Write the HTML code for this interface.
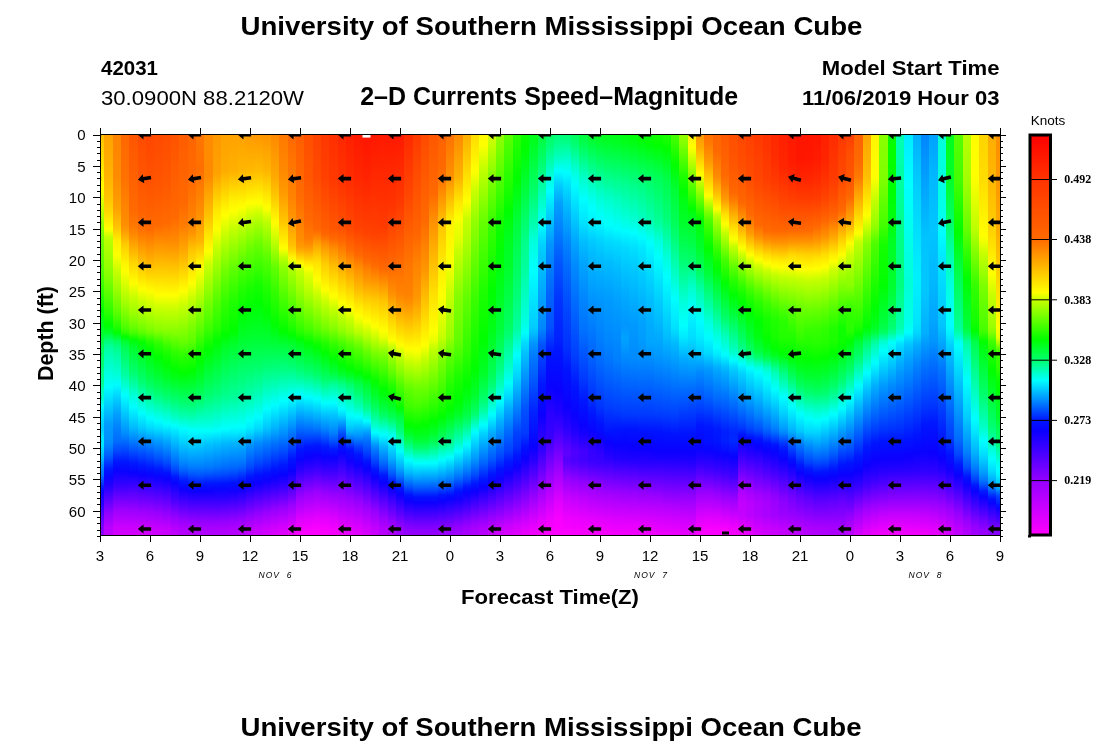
<!DOCTYPE html>
<html><head><meta charset="utf-8"><title>Ocean Cube</title>
<style>html,body{margin:0;padding:0;background:#fff}svg{display:block;will-change:transform}text{font-family:"Liberation Sans",sans-serif;fill:#000}.b{font-weight:bold}.s{font-family:"Liberation Serif",serif;font-weight:bold}</style></head>
<body>
<svg width="1100" height="750" viewBox="0 0 1100 750">
<rect width="1100" height="750" fill="#fff"/>
<defs><linearGradient id="g0" x1="0" y1="0" x2="0" y2="1"><stop offset="0" stop-color="#ffc000"/><stop offset="0.135" stop-color="#ffff00"/><stop offset="0.245" stop-color="#7bff00"/><stop offset="0.34" stop-color="#52ff00"/><stop offset="0.385" stop-color="#33ff00"/><stop offset="0.44" stop-color="#00ff02"/><stop offset="0.495" stop-color="#00ff2e"/><stop offset="0.54" stop-color="#00ff5f"/><stop offset="0.57" stop-color="#00ff6b"/><stop offset="0.59" stop-color="#00ff82"/><stop offset="0.615" stop-color="#00ff89"/><stop offset="0.625" stop-color="#00ff98"/><stop offset="0.64" stop-color="#00ffba"/><stop offset="0.66" stop-color="#00ffce"/><stop offset="0.67" stop-color="#00ffe4"/><stop offset="0.675" stop-color="#00fff6"/><stop offset="0.68" stop-color="#00f9ff"/><stop offset="0.69" stop-color="#00eaff"/><stop offset="0.73" stop-color="#00ceff"/><stop offset="0.745" stop-color="#00d5ff"/><stop offset="0.755" stop-color="#00e6ff"/><stop offset="0.765" stop-color="#00edff"/><stop offset="0.775" stop-color="#00e8ff"/><stop offset="0.81" stop-color="#00b4ff"/><stop offset="0.825" stop-color="#008fff"/><stop offset="0.85" stop-color="#0071ff"/><stop offset="0.885" stop-color="#0112ff"/><stop offset="0.895" stop-color="#0a01ff"/><stop offset="0.905" stop-color="#1900ff"/><stop offset="0.93" stop-color="#2e00ff"/><stop offset="0.94" stop-color="#4300ff"/><stop offset="0.96" stop-color="#5d00ff"/><stop offset="0.985" stop-color="#8700ff"/><stop offset="1" stop-color="#9000ff"/></linearGradient><linearGradient id="g1" x1="0" y1="0" x2="0" y2="1"><stop offset="0" stop-color="#ffa200"/><stop offset="0.11" stop-color="#ffb500"/><stop offset="0.16" stop-color="#ffc500"/><stop offset="0.19" stop-color="#ffd600"/><stop offset="0.235" stop-color="#fffe00"/><stop offset="0.255" stop-color="#c4ff00"/><stop offset="0.265" stop-color="#b7ff00"/><stop offset="0.325" stop-color="#98ff00"/><stop offset="0.355" stop-color="#82ff00"/><stop offset="0.43" stop-color="#39ff00"/><stop offset="0.475" stop-color="#01ff00"/><stop offset="0.48" stop-color="#00ff07"/><stop offset="0.495" stop-color="#00ff2a"/><stop offset="0.515" stop-color="#00ff76"/><stop offset="0.53" stop-color="#00ff9e"/><stop offset="0.55" stop-color="#00ffb6"/><stop offset="0.63" stop-color="#00feff"/><stop offset="0.725" stop-color="#009bff"/><stop offset="0.77" stop-color="#008cff"/><stop offset="0.8" stop-color="#0061ff"/><stop offset="0.835" stop-color="#0017ff"/><stop offset="0.855" stop-color="#0804ff"/><stop offset="0.875" stop-color="#2000ff"/><stop offset="0.95" stop-color="#9700ff"/><stop offset="0.985" stop-color="#bb00ff"/><stop offset="1" stop-color="#c100ff"/></linearGradient><linearGradient id="g2" x1="0" y1="0" x2="0" y2="1"><stop offset="0" stop-color="#ff8400"/><stop offset="0.105" stop-color="#ff8c00"/><stop offset="0.18" stop-color="#ffa000"/><stop offset="0.23" stop-color="#ffc300"/><stop offset="0.265" stop-color="#ffef00"/><stop offset="0.3" stop-color="#fdff00"/><stop offset="0.34" stop-color="#c7ff00"/><stop offset="0.385" stop-color="#9cff00"/><stop offset="0.44" stop-color="#5eff00"/><stop offset="0.475" stop-color="#28ff00"/><stop offset="0.49" stop-color="#09ff00"/><stop offset="0.495" stop-color="#00ff06"/><stop offset="0.515" stop-color="#00ff5e"/><stop offset="0.53" stop-color="#00ff87"/><stop offset="0.55" stop-color="#00ffa5"/><stop offset="0.595" stop-color="#00ffd2"/><stop offset="0.625" stop-color="#00fcff"/><stop offset="0.655" stop-color="#00d2ff"/><stop offset="0.7" stop-color="#009dff"/><stop offset="0.735" stop-color="#007fff"/><stop offset="0.765" stop-color="#006dff"/><stop offset="0.79" stop-color="#0048ff"/><stop offset="0.815" stop-color="#0018ff"/><stop offset="0.84" stop-color="#0902ff"/><stop offset="0.875" stop-color="#3600ff"/><stop offset="0.935" stop-color="#9a00ff"/><stop offset="0.98" stop-color="#ca00ff"/><stop offset="1" stop-color="#d600ff"/></linearGradient><linearGradient id="g3" x1="0" y1="0" x2="0" y2="1"><stop offset="0" stop-color="#ff6800"/><stop offset="0.105" stop-color="#ff7100"/><stop offset="0.225" stop-color="#ff8f00"/><stop offset="0.24" stop-color="#ff9c00"/><stop offset="0.275" stop-color="#ffcd00"/><stop offset="0.32" stop-color="#fff400"/><stop offset="0.34" stop-color="#feff00"/><stop offset="0.42" stop-color="#a1ff00"/><stop offset="0.475" stop-color="#55ff00"/><stop offset="0.485" stop-color="#44ff00"/><stop offset="0.495" stop-color="#29ff00"/><stop offset="0.505" stop-color="#00ff00"/><stop offset="0.515" stop-color="#00ff2c"/><stop offset="0.53" stop-color="#00ff52"/><stop offset="0.6" stop-color="#00ffa2"/><stop offset="0.65" stop-color="#00ffff"/><stop offset="0.745" stop-color="#008eff"/><stop offset="0.815" stop-color="#0018ff"/><stop offset="0.84" stop-color="#0803ff"/><stop offset="0.875" stop-color="#3600ff"/><stop offset="0.935" stop-color="#9a00ff"/><stop offset="0.98" stop-color="#cb00ff"/><stop offset="1" stop-color="#d600ff"/></linearGradient><linearGradient id="g4" x1="0" y1="0" x2="0" y2="1"><stop offset="0" stop-color="#ff5600"/><stop offset="0.185" stop-color="#ff6900"/><stop offset="0.225" stop-color="#ff7700"/><stop offset="0.245" stop-color="#ff8500"/><stop offset="0.32" stop-color="#ffd600"/><stop offset="0.37" stop-color="#fffd00"/><stop offset="0.405" stop-color="#c8ff00"/><stop offset="0.44" stop-color="#a1ff00"/><stop offset="0.48" stop-color="#67ff00"/><stop offset="0.495" stop-color="#44ff00"/><stop offset="0.51" stop-color="#09ff00"/><stop offset="0.515" stop-color="#00ff0b"/><stop offset="0.53" stop-color="#00ff2c"/><stop offset="0.595" stop-color="#00ff70"/><stop offset="0.655" stop-color="#00ffde"/><stop offset="0.68" stop-color="#00fdff"/><stop offset="0.735" stop-color="#00b5ff"/><stop offset="0.82" stop-color="#0019ff"/><stop offset="0.845" stop-color="#0902ff"/><stop offset="0.935" stop-color="#9700ff"/><stop offset="0.98" stop-color="#ca00ff"/><stop offset="1" stop-color="#d600ff"/></linearGradient><linearGradient id="g5" x1="0" y1="0" x2="0" y2="1"><stop offset="0" stop-color="#ff4b00"/><stop offset="0.115" stop-color="#ff5600"/><stop offset="0.225" stop-color="#ff6900"/><stop offset="0.245" stop-color="#ff7700"/><stop offset="0.385" stop-color="#fffe00"/><stop offset="0.415" stop-color="#ccff00"/><stop offset="0.45" stop-color="#a2ff00"/><stop offset="0.485" stop-color="#70ff00"/><stop offset="0.495" stop-color="#58ff00"/><stop offset="0.515" stop-color="#0dff00"/><stop offset="0.52" stop-color="#01ff00"/><stop offset="0.525" stop-color="#00ff0a"/><stop offset="0.615" stop-color="#00ff6e"/><stop offset="0.695" stop-color="#00fffd"/><stop offset="0.735" stop-color="#00c7ff"/><stop offset="0.77" stop-color="#007cff"/><stop offset="0.825" stop-color="#001aff"/><stop offset="0.85" stop-color="#0b00ff"/><stop offset="0.94" stop-color="#9a00ff"/><stop offset="0.985" stop-color="#ce00ff"/><stop offset="1" stop-color="#d500ff"/></linearGradient><linearGradient id="g6" x1="0" y1="0" x2="0" y2="1"><stop offset="0" stop-color="#ff4600"/><stop offset="0.115" stop-color="#ff5200"/><stop offset="0.235" stop-color="#ff6a00"/><stop offset="0.32" stop-color="#ffb500"/><stop offset="0.39" stop-color="#fffd00"/><stop offset="0.425" stop-color="#cbff00"/><stop offset="0.485" stop-color="#7fff00"/><stop offset="0.495" stop-color="#69ff00"/><stop offset="0.515" stop-color="#25ff00"/><stop offset="0.535" stop-color="#00ff00"/><stop offset="0.6" stop-color="#00ff42"/><stop offset="0.63" stop-color="#00ff6b"/><stop offset="0.705" stop-color="#00fffa"/><stop offset="0.71" stop-color="#00fcff"/><stop offset="0.735" stop-color="#00d5ff"/><stop offset="0.77" stop-color="#0086ff"/><stop offset="0.83" stop-color="#001aff"/><stop offset="0.85" stop-color="#0803ff"/><stop offset="0.94" stop-color="#9700ff"/><stop offset="0.985" stop-color="#cb00ff"/><stop offset="1" stop-color="#d200ff"/></linearGradient><linearGradient id="g7" x1="0" y1="0" x2="0" y2="1"><stop offset="0" stop-color="#ff4a00"/><stop offset="0.115" stop-color="#ff5400"/><stop offset="0.225" stop-color="#ff6900"/><stop offset="0.4" stop-color="#ffff00"/><stop offset="0.435" stop-color="#c6ff00"/><stop offset="0.485" stop-color="#8bff00"/><stop offset="0.495" stop-color="#78ff00"/><stop offset="0.515" stop-color="#3cff00"/><stop offset="0.525" stop-color="#26ff00"/><stop offset="0.555" stop-color="#00ff01"/><stop offset="0.6" stop-color="#00ff2e"/><stop offset="0.645" stop-color="#00ff6e"/><stop offset="0.715" stop-color="#00fffd"/><stop offset="0.735" stop-color="#00deff"/><stop offset="0.765" stop-color="#009bff"/><stop offset="0.81" stop-color="#004eff"/><stop offset="0.835" stop-color="#0019ff"/><stop offset="0.855" stop-color="#0902ff"/><stop offset="0.945" stop-color="#9900ff"/><stop offset="0.985" stop-color="#c800ff"/><stop offset="1" stop-color="#d000ff"/></linearGradient><linearGradient id="g8" x1="0" y1="0" x2="0" y2="1"><stop offset="0" stop-color="#ff4d00"/><stop offset="0.115" stop-color="#ff5700"/><stop offset="0.22" stop-color="#ff6a00"/><stop offset="0.265" stop-color="#ff8a00"/><stop offset="0.4" stop-color="#fffe00"/><stop offset="0.435" stop-color="#c8ff00"/><stop offset="0.485" stop-color="#8fff00"/><stop offset="0.495" stop-color="#7eff00"/><stop offset="0.53" stop-color="#31ff00"/><stop offset="0.55" stop-color="#15ff00"/><stop offset="0.57" stop-color="#02ff00"/><stop offset="0.605" stop-color="#00ff23"/><stop offset="0.655" stop-color="#00ff70"/><stop offset="0.72" stop-color="#00fff9"/><stop offset="0.725" stop-color="#00faff"/><stop offset="0.765" stop-color="#00a9ff"/><stop offset="0.82" stop-color="#004aff"/><stop offset="0.845" stop-color="#0111ff"/><stop offset="0.86" stop-color="#0a01ff"/><stop offset="0.95" stop-color="#9900ff"/><stop offset="0.985" stop-color="#c500ff"/><stop offset="1" stop-color="#cd00ff"/></linearGradient><linearGradient id="g9" x1="0" y1="0" x2="0" y2="1"><stop offset="0" stop-color="#ff5300"/><stop offset="0.205" stop-color="#ff6900"/><stop offset="0.27" stop-color="#ff8d00"/><stop offset="0.4" stop-color="#fffe00"/><stop offset="0.435" stop-color="#c8ff00"/><stop offset="0.495" stop-color="#82ff00"/><stop offset="0.545" stop-color="#2bff00"/><stop offset="0.585" stop-color="#02ff00"/><stop offset="0.605" stop-color="#00ff15"/><stop offset="0.665" stop-color="#00ff73"/><stop offset="0.7" stop-color="#00ffb9"/><stop offset="0.725" stop-color="#00fff8"/><stop offset="0.73" stop-color="#00faff"/><stop offset="0.745" stop-color="#00deff"/><stop offset="0.82" stop-color="#006aff"/><stop offset="0.84" stop-color="#0041ff"/><stop offset="0.855" stop-color="#0016ff"/><stop offset="0.87" stop-color="#0804ff"/><stop offset="0.91" stop-color="#4400ff"/><stop offset="0.955" stop-color="#9500ff"/><stop offset="0.985" stop-color="#b900ff"/><stop offset="1" stop-color="#c200ff"/></linearGradient><linearGradient id="g10" x1="0" y1="0" x2="0" y2="1"><stop offset="0" stop-color="#ff5c00"/><stop offset="0.17" stop-color="#ff6900"/><stop offset="0.225" stop-color="#ff7c00"/><stop offset="0.29" stop-color="#ffa900"/><stop offset="0.39" stop-color="#fffe00"/><stop offset="0.425" stop-color="#c9ff00"/><stop offset="0.515" stop-color="#68ff00"/><stop offset="0.55" stop-color="#2dff00"/><stop offset="0.595" stop-color="#00ff00"/><stop offset="0.67" stop-color="#00ff70"/><stop offset="0.7" stop-color="#00ffa9"/><stop offset="0.73" stop-color="#00fff5"/><stop offset="0.735" stop-color="#00fdff"/><stop offset="0.82" stop-color="#0085ff"/><stop offset="0.84" stop-color="#005eff"/><stop offset="0.865" stop-color="#0018ff"/><stop offset="0.885" stop-color="#0b00ff"/><stop offset="0.965" stop-color="#9900ff"/><stop offset="0.985" stop-color="#b000ff"/><stop offset="1" stop-color="#b800ff"/></linearGradient><linearGradient id="g11" x1="0" y1="0" x2="0" y2="1"><stop offset="0" stop-color="#ff6500"/><stop offset="0.11" stop-color="#ff6900"/><stop offset="0.225" stop-color="#ff8600"/><stop offset="0.245" stop-color="#ff9400"/><stop offset="0.29" stop-color="#ffc700"/><stop offset="0.37" stop-color="#fffe00"/><stop offset="0.41" stop-color="#c5ff00"/><stop offset="0.485" stop-color="#76ff00"/><stop offset="0.515" stop-color="#5cff00"/><stop offset="0.55" stop-color="#27ff00"/><stop offset="0.59" stop-color="#00ff00"/><stop offset="0.675" stop-color="#00ff75"/><stop offset="0.7" stop-color="#00ffa4"/><stop offset="0.735" stop-color="#00fff5"/><stop offset="0.74" stop-color="#00feff"/><stop offset="0.83" stop-color="#007dff"/><stop offset="0.85" stop-color="#0052ff"/><stop offset="0.87" stop-color="#001bff"/><stop offset="0.89" stop-color="#0b00ff"/><stop offset="0.965" stop-color="#9400ff"/><stop offset="0.985" stop-color="#ad00ff"/><stop offset="1" stop-color="#b500ff"/></linearGradient><linearGradient id="g12" x1="0" y1="0" x2="0" y2="1"><stop offset="0" stop-color="#ff7700"/><stop offset="0.09" stop-color="#ff6e00"/><stop offset="0.2" stop-color="#ff9000"/><stop offset="0.265" stop-color="#ffb400"/><stop offset="0.32" stop-color="#fff300"/><stop offset="0.335" stop-color="#fdff00"/><stop offset="0.44" stop-color="#88ff00"/><stop offset="0.495" stop-color="#51ff00"/><stop offset="0.54" stop-color="#15ff00"/><stop offset="0.565" stop-color="#00ff02"/><stop offset="0.605" stop-color="#00ff26"/><stop offset="0.665" stop-color="#00ff71"/><stop offset="0.74" stop-color="#00fffc"/><stop offset="0.77" stop-color="#00cfff"/><stop offset="0.83" stop-color="#007eff"/><stop offset="0.85" stop-color="#0054ff"/><stop offset="0.875" stop-color="#0112ff"/><stop offset="0.89" stop-color="#0a00ff"/><stop offset="0.965" stop-color="#9200ff"/><stop offset="0.985" stop-color="#ab00ff"/><stop offset="1" stop-color="#b400ff"/></linearGradient><linearGradient id="g13" x1="0" y1="0" x2="0" y2="1"><stop offset="0" stop-color="#ff8c00"/><stop offset="0.1" stop-color="#ff8900"/><stop offset="0.2" stop-color="#ffc100"/><stop offset="0.29" stop-color="#ffff00"/><stop offset="0.325" stop-color="#c9ff00"/><stop offset="0.485" stop-color="#3cff00"/><stop offset="0.535" stop-color="#00ff00"/><stop offset="0.65" stop-color="#00ff6f"/><stop offset="0.715" stop-color="#00ffce"/><stop offset="0.74" stop-color="#00fffb"/><stop offset="0.77" stop-color="#00c7ff"/><stop offset="0.83" stop-color="#007aff"/><stop offset="0.845" stop-color="#005cff"/><stop offset="0.87" stop-color="#0019ff"/><stop offset="0.89" stop-color="#0b00ff"/><stop offset="0.965" stop-color="#9200ff"/><stop offset="0.985" stop-color="#ab00ff"/><stop offset="1" stop-color="#b400ff"/></linearGradient><linearGradient id="g14" x1="0" y1="0" x2="0" y2="1"><stop offset="0" stop-color="#ff9900"/><stop offset="0.095" stop-color="#ffa100"/><stop offset="0.19" stop-color="#ffe800"/><stop offset="0.235" stop-color="#feff00"/><stop offset="0.28" stop-color="#c7ff00"/><stop offset="0.425" stop-color="#4cff00"/><stop offset="0.485" stop-color="#24ff00"/><stop offset="0.515" stop-color="#00ff01"/><stop offset="0.645" stop-color="#00ff77"/><stop offset="0.67" stop-color="#00ff97"/><stop offset="0.74" stop-color="#00fcff"/><stop offset="0.77" stop-color="#00c0ff"/><stop offset="0.83" stop-color="#0074ff"/><stop offset="0.85" stop-color="#004cff"/><stop offset="0.87" stop-color="#0017ff"/><stop offset="0.885" stop-color="#0805ff"/><stop offset="0.905" stop-color="#2500ff"/><stop offset="0.97" stop-color="#9a00ff"/><stop offset="0.99" stop-color="#b000ff"/><stop offset="1" stop-color="#b400ff"/></linearGradient><linearGradient id="g15" x1="0" y1="0" x2="0" y2="1"><stop offset="0" stop-color="#ffa200"/><stop offset="0.09" stop-color="#ffac00"/><stop offset="0.2" stop-color="#ffff00"/><stop offset="0.25" stop-color="#c7ff00"/><stop offset="0.34" stop-color="#70ff00"/><stop offset="0.42" stop-color="#31ff00"/><stop offset="0.485" stop-color="#0eff00"/><stop offset="0.5" stop-color="#00ff00"/><stop offset="0.53" stop-color="#00ff25"/><stop offset="0.655" stop-color="#00ff8f"/><stop offset="0.735" stop-color="#00ffff"/><stop offset="0.77" stop-color="#00b9ff"/><stop offset="0.83" stop-color="#006eff"/><stop offset="0.85" stop-color="#0047ff"/><stop offset="0.87" stop-color="#0015ff"/><stop offset="0.885" stop-color="#0804ff"/><stop offset="0.905" stop-color="#2600ff"/><stop offset="0.965" stop-color="#9300ff"/><stop offset="0.985" stop-color="#ac00ff"/><stop offset="1" stop-color="#b400ff"/></linearGradient><linearGradient id="g16" x1="0" y1="0" x2="0" y2="1"><stop offset="0" stop-color="#ffa200"/><stop offset="0.09" stop-color="#ffb100"/><stop offset="0.16" stop-color="#ffed00"/><stop offset="0.19" stop-color="#feff00"/><stop offset="0.23" stop-color="#c8ff00"/><stop offset="0.345" stop-color="#56ff00"/><stop offset="0.42" stop-color="#1eff00"/><stop offset="0.49" stop-color="#00ff00"/><stop offset="0.53" stop-color="#00ff32"/><stop offset="0.655" stop-color="#00ff98"/><stop offset="0.73" stop-color="#00fffc"/><stop offset="0.745" stop-color="#00e9ff"/><stop offset="0.77" stop-color="#00b5ff"/><stop offset="0.83" stop-color="#0069ff"/><stop offset="0.845" stop-color="#004cff"/><stop offset="0.87" stop-color="#0111ff"/><stop offset="0.89" stop-color="#1000ff"/><stop offset="0.965" stop-color="#9700ff"/><stop offset="0.985" stop-color="#af00ff"/><stop offset="1" stop-color="#b800ff"/></linearGradient><linearGradient id="g17" x1="0" y1="0" x2="0" y2="1"><stop offset="0" stop-color="#ffa200"/><stop offset="0.09" stop-color="#ffb600"/><stop offset="0.18" stop-color="#ffff00"/><stop offset="0.22" stop-color="#c6ff00"/><stop offset="0.32" stop-color="#58ff00"/><stop offset="0.385" stop-color="#22ff00"/><stop offset="0.445" stop-color="#00ff02"/><stop offset="0.505" stop-color="#00ff29"/><stop offset="0.645" stop-color="#00ff98"/><stop offset="0.73" stop-color="#00feff"/><stop offset="0.745" stop-color="#00e6ff"/><stop offset="0.77" stop-color="#00b0ff"/><stop offset="0.81" stop-color="#0081ff"/><stop offset="0.83" stop-color="#0064ff"/><stop offset="0.865" stop-color="#0113ff"/><stop offset="0.885" stop-color="#0d00ff"/><stop offset="0.96" stop-color="#9400ff"/><stop offset="0.985" stop-color="#b400ff"/><stop offset="1" stop-color="#bc00ff"/></linearGradient><linearGradient id="g18" x1="0" y1="0" x2="0" y2="1"><stop offset="0" stop-color="#ff9b00"/><stop offset="0.09" stop-color="#ffb900"/><stop offset="0.17" stop-color="#fffe00"/><stop offset="0.205" stop-color="#c7ff00"/><stop offset="0.285" stop-color="#69ff00"/><stop offset="0.385" stop-color="#17ff00"/><stop offset="0.43" stop-color="#00ff02"/><stop offset="0.505" stop-color="#00ff2d"/><stop offset="0.59" stop-color="#00ff6f"/><stop offset="0.66" stop-color="#00ffb5"/><stop offset="0.715" stop-color="#00fffc"/><stop offset="0.735" stop-color="#00e9ff"/><stop offset="0.775" stop-color="#0093ff"/><stop offset="0.83" stop-color="#004aff"/><stop offset="0.855" stop-color="#0014ff"/><stop offset="0.875" stop-color="#0a01ff"/><stop offset="0.955" stop-color="#9700ff"/><stop offset="0.985" stop-color="#bd00ff"/><stop offset="1" stop-color="#c600ff"/></linearGradient><linearGradient id="g19" x1="0" y1="0" x2="0" y2="1"><stop offset="0" stop-color="#ff9800"/><stop offset="0.09" stop-color="#ffbc00"/><stop offset="0.165" stop-color="#fffc00"/><stop offset="0.17" stop-color="#fcff00"/><stop offset="0.2" stop-color="#c5ff00"/><stop offset="0.22" stop-color="#a9ff00"/><stop offset="0.27" stop-color="#6cff00"/><stop offset="0.375" stop-color="#15ff00"/><stop offset="0.42" stop-color="#00ff01"/><stop offset="0.505" stop-color="#00ff2f"/><stop offset="0.58" stop-color="#00ff6b"/><stop offset="0.635" stop-color="#00ffa7"/><stop offset="0.705" stop-color="#00fdff"/><stop offset="0.735" stop-color="#00d8ff"/><stop offset="0.77" stop-color="#008bff"/><stop offset="0.82" stop-color="#0046ff"/><stop offset="0.85" stop-color="#0211ff"/><stop offset="0.87" stop-color="#0d00ff"/><stop offset="0.95" stop-color="#9900ff"/><stop offset="0.985" stop-color="#c600ff"/><stop offset="1" stop-color="#ce00ff"/></linearGradient><linearGradient id="g20" x1="0" y1="0" x2="0" y2="1"><stop offset="0" stop-color="#ff9500"/><stop offset="0.09" stop-color="#ffb600"/><stop offset="0.18" stop-color="#fffd00"/><stop offset="0.185" stop-color="#fbff00"/><stop offset="0.21" stop-color="#caff00"/><stop offset="0.225" stop-color="#b5ff00"/><stop offset="0.31" stop-color="#56ff00"/><stop offset="0.385" stop-color="#1eff00"/><stop offset="0.445" stop-color="#00ff03"/><stop offset="0.515" stop-color="#00ff36"/><stop offset="0.58" stop-color="#00ff73"/><stop offset="0.685" stop-color="#00fffd"/><stop offset="0.735" stop-color="#00c3ff"/><stop offset="0.77" stop-color="#007fff"/><stop offset="0.82" stop-color="#003aff"/><stop offset="0.845" stop-color="#0211ff"/><stop offset="0.865" stop-color="#0e00ff"/><stop offset="0.945" stop-color="#9b00ff"/><stop offset="0.985" stop-color="#cd00ff"/><stop offset="1" stop-color="#d500ff"/></linearGradient><linearGradient id="g21" x1="0" y1="0" x2="0" y2="1"><stop offset="0" stop-color="#ff8a00"/><stop offset="0.105" stop-color="#ffa900"/><stop offset="0.15" stop-color="#ffc500"/><stop offset="0.22" stop-color="#fffd00"/><stop offset="0.28" stop-color="#aeff00"/><stop offset="0.33" stop-color="#63ff00"/><stop offset="0.385" stop-color="#38ff00"/><stop offset="0.475" stop-color="#00ff03"/><stop offset="0.59" stop-color="#00ff83"/><stop offset="0.675" stop-color="#00fdff"/><stop offset="0.735" stop-color="#00b0ff"/><stop offset="0.77" stop-color="#0073ff"/><stop offset="0.835" stop-color="#0014ff"/><stop offset="0.855" stop-color="#0902ff"/><stop offset="0.885" stop-color="#3800ff"/><stop offset="0.935" stop-color="#9500ff"/><stop offset="0.98" stop-color="#cf00ff"/><stop offset="1" stop-color="#dc00ff"/></linearGradient><linearGradient id="g22" x1="0" y1="0" x2="0" y2="1"><stop offset="0" stop-color="#ff7900"/><stop offset="0.08" stop-color="#ff8700"/><stop offset="0.145" stop-color="#ff9a00"/><stop offset="0.215" stop-color="#ffc500"/><stop offset="0.28" stop-color="#fffb00"/><stop offset="0.285" stop-color="#fbff00"/><stop offset="0.305" stop-color="#c1ff00"/><stop offset="0.32" stop-color="#a1ff00"/><stop offset="0.335" stop-color="#8aff00"/><stop offset="0.49" stop-color="#01ff00"/><stop offset="0.495" stop-color="#00ff05"/><stop offset="0.525" stop-color="#00ff38"/><stop offset="0.59" stop-color="#00ff86"/><stop offset="0.665" stop-color="#00ffff"/><stop offset="0.735" stop-color="#009eff"/><stop offset="0.825" stop-color="#0018ff"/><stop offset="0.85" stop-color="#0902ff"/><stop offset="0.875" stop-color="#2f00ff"/><stop offset="0.935" stop-color="#9c00ff"/><stop offset="0.98" stop-color="#d500ff"/><stop offset="1" stop-color="#e200ff"/></linearGradient><linearGradient id="g23" x1="0" y1="0" x2="0" y2="1"><stop offset="0" stop-color="#ff6800"/><stop offset="0.155" stop-color="#ff8300"/><stop offset="0.215" stop-color="#ff9800"/><stop offset="0.275" stop-color="#ffc000"/><stop offset="0.29" stop-color="#ffd500"/><stop offset="0.31" stop-color="#fffc00"/><stop offset="0.325" stop-color="#c4ff00"/><stop offset="0.34" stop-color="#a9ff00"/><stop offset="0.48" stop-color="#1fff00"/><stop offset="0.5" stop-color="#01ff00"/><stop offset="0.505" stop-color="#00ff0a"/><stop offset="0.525" stop-color="#00ff31"/><stop offset="0.58" stop-color="#00ff75"/><stop offset="0.655" stop-color="#00fffc"/><stop offset="0.66" stop-color="#00faff"/><stop offset="0.81" stop-color="#0014ff"/><stop offset="0.84" stop-color="#0a00ff"/><stop offset="0.875" stop-color="#4000ff"/><stop offset="0.925" stop-color="#9a00ff"/><stop offset="0.98" stop-color="#de00ff"/><stop offset="1" stop-color="#eb00ff"/></linearGradient><linearGradient id="g24" x1="0" y1="0" x2="0" y2="1"><stop offset="0" stop-color="#ff5e00"/><stop offset="0.16" stop-color="#ff6c00"/><stop offset="0.265" stop-color="#ff9000"/><stop offset="0.28" stop-color="#ff9c00"/><stop offset="0.29" stop-color="#ffad00"/><stop offset="0.32" stop-color="#fff700"/><stop offset="0.325" stop-color="#fcff00"/><stop offset="0.33" stop-color="#e4ff00"/><stop offset="0.34" stop-color="#c7ff00"/><stop offset="0.385" stop-color="#9fff00"/><stop offset="0.48" stop-color="#38ff00"/><stop offset="0.495" stop-color="#23ff00"/><stop offset="0.51" stop-color="#01ff00"/><stop offset="0.515" stop-color="#00ff0c"/><stop offset="0.53" stop-color="#00ff26"/><stop offset="0.585" stop-color="#00ff6e"/><stop offset="0.605" stop-color="#00ff95"/><stop offset="0.65" stop-color="#00fffe"/><stop offset="0.7" stop-color="#00a4ff"/><stop offset="0.785" stop-color="#0016ff"/><stop offset="0.81" stop-color="#0903ff"/><stop offset="0.84" stop-color="#2f00ff"/><stop offset="0.905" stop-color="#9a00ff"/><stop offset="0.96" stop-color="#dc00ff"/><stop offset="0.985" stop-color="#f200ff"/><stop offset="1" stop-color="#f800ff"/></linearGradient><linearGradient id="g25" x1="0" y1="0" x2="0" y2="1"><stop offset="0" stop-color="#ff4f00"/><stop offset="0.105" stop-color="#ff5700"/><stop offset="0.215" stop-color="#ff6900"/><stop offset="0.255" stop-color="#ff7a00"/><stop offset="0.27" stop-color="#ff8800"/><stop offset="0.29" stop-color="#ffa700"/><stop offset="0.33" stop-color="#fffa00"/><stop offset="0.335" stop-color="#fcff00"/><stop offset="0.345" stop-color="#e6ff00"/><stop offset="0.355" stop-color="#daff00"/><stop offset="0.395" stop-color="#b2ff00"/><stop offset="0.485" stop-color="#45ff00"/><stop offset="0.52" stop-color="#00ff02"/><stop offset="0.595" stop-color="#00ff72"/><stop offset="0.655" stop-color="#00feff"/><stop offset="0.745" stop-color="#005bff"/><stop offset="0.78" stop-color="#0014ff"/><stop offset="0.805" stop-color="#0a00ff"/><stop offset="0.84" stop-color="#3a00ff"/><stop offset="0.895" stop-color="#9700ff"/><stop offset="0.96" stop-color="#e200ff"/><stop offset="0.985" stop-color="#f700ff"/><stop offset="1" stop-color="#fb00ff"/></linearGradient><linearGradient id="g26" x1="0" y1="0" x2="0" y2="1"><stop offset="0" stop-color="#ff4200"/><stop offset="0.105" stop-color="#ff4b00"/><stop offset="0.235" stop-color="#ff6700"/><stop offset="0.245" stop-color="#ff7300"/><stop offset="0.275" stop-color="#ffa700"/><stop offset="0.32" stop-color="#ffe300"/><stop offset="0.36" stop-color="#fffe00"/><stop offset="0.375" stop-color="#eeff00"/><stop offset="0.4" stop-color="#c5ff00"/><stop offset="0.485" stop-color="#5aff00"/><stop offset="0.495" stop-color="#49ff00"/><stop offset="0.52" stop-color="#11ff00"/><stop offset="0.53" stop-color="#00ff00"/><stop offset="0.535" stop-color="#00ff08"/><stop offset="0.6" stop-color="#00ff6b"/><stop offset="0.66" stop-color="#00fffe"/><stop offset="0.735" stop-color="#0075ff"/><stop offset="0.775" stop-color="#0018ff"/><stop offset="0.8" stop-color="#0a01ff"/><stop offset="0.835" stop-color="#3900ff"/><stop offset="0.89" stop-color="#9700ff"/><stop offset="0.905" stop-color="#a900ff"/><stop offset="0.96" stop-color="#e700ff"/><stop offset="0.985" stop-color="#fa00ff"/><stop offset="1" stop-color="#fe00ff"/></linearGradient><linearGradient id="g27" x1="0" y1="0" x2="0" y2="1"><stop offset="0" stop-color="#ff3700"/><stop offset="0.11" stop-color="#ff4100"/><stop offset="0.235" stop-color="#ff5f00"/><stop offset="0.25" stop-color="#ff6800"/><stop offset="0.275" stop-color="#ff9300"/><stop offset="0.32" stop-color="#ffcb00"/><stop offset="0.385" stop-color="#fffd00"/><stop offset="0.39" stop-color="#faff00"/><stop offset="0.415" stop-color="#caff00"/><stop offset="0.485" stop-color="#6fff00"/><stop offset="0.52" stop-color="#22ff00"/><stop offset="0.545" stop-color="#00ff02"/><stop offset="0.61" stop-color="#00ff68"/><stop offset="0.67" stop-color="#00fffe"/><stop offset="0.7" stop-color="#00c2ff"/><stop offset="0.735" stop-color="#0084ff"/><stop offset="0.78" stop-color="#0018ff"/><stop offset="0.805" stop-color="#0902ff"/><stop offset="0.835" stop-color="#3300ff"/><stop offset="0.895" stop-color="#9800ff"/><stop offset="0.955" stop-color="#e000ff"/><stop offset="0.985" stop-color="#f800ff"/><stop offset="1" stop-color="#fc00ff"/></linearGradient><linearGradient id="g28" x1="0" y1="0" x2="0" y2="1"><stop offset="0" stop-color="#ff2f00"/><stop offset="0.115" stop-color="#ff3a00"/><stop offset="0.235" stop-color="#ff5700"/><stop offset="0.26" stop-color="#ff6900"/><stop offset="0.28" stop-color="#ff8900"/><stop offset="0.33" stop-color="#ffc000"/><stop offset="0.4" stop-color="#fffd00"/><stop offset="0.405" stop-color="#fcff00"/><stop offset="0.435" stop-color="#c4ff00"/><stop offset="0.485" stop-color="#83ff00"/><stop offset="0.525" stop-color="#2dff00"/><stop offset="0.56" stop-color="#00ff03"/><stop offset="0.595" stop-color="#00ff3c"/><stop offset="0.61" stop-color="#00ff66"/><stop offset="0.625" stop-color="#00ff9d"/><stop offset="0.67" stop-color="#00feff"/><stop offset="0.7" stop-color="#00c5ff"/><stop offset="0.745" stop-color="#0080ff"/><stop offset="0.765" stop-color="#0052ff"/><stop offset="0.785" stop-color="#001bff"/><stop offset="0.805" stop-color="#0903ff"/><stop offset="0.84" stop-color="#3900ff"/><stop offset="0.9" stop-color="#9900ff"/><stop offset="0.955" stop-color="#da00ff"/><stop offset="0.985" stop-color="#f300ff"/><stop offset="1" stop-color="#f800ff"/></linearGradient><linearGradient id="g29" x1="0" y1="0" x2="0" y2="1"><stop offset="0" stop-color="#ff2700"/><stop offset="0.115" stop-color="#ff3300"/><stop offset="0.235" stop-color="#ff5100"/><stop offset="0.265" stop-color="#ff6800"/><stop offset="0.34" stop-color="#ffb700"/><stop offset="0.42" stop-color="#ffff00"/><stop offset="0.445" stop-color="#cbff00"/><stop offset="0.48" stop-color="#9fff00"/><stop offset="0.495" stop-color="#86ff00"/><stop offset="0.515" stop-color="#54ff00"/><stop offset="0.53" stop-color="#38ff00"/><stop offset="0.575" stop-color="#00ff03"/><stop offset="0.59" stop-color="#00ff1b"/><stop offset="0.6" stop-color="#00ff33"/><stop offset="0.625" stop-color="#00ff88"/><stop offset="0.635" stop-color="#00ffa2"/><stop offset="0.685" stop-color="#00fdff"/><stop offset="0.7" stop-color="#00dbff"/><stop offset="0.74" stop-color="#005fff"/><stop offset="0.755" stop-color="#0039ff"/><stop offset="0.775" stop-color="#0015ff"/><stop offset="0.795" stop-color="#0804ff"/><stop offset="0.9" stop-color="#9500ff"/><stop offset="0.97" stop-color="#dc00ff"/><stop offset="1" stop-color="#ee00ff"/></linearGradient><linearGradient id="g30" x1="0" y1="0" x2="0" y2="1"><stop offset="0" stop-color="#ff2000"/><stop offset="0.105" stop-color="#ff2b00"/><stop offset="0.235" stop-color="#ff4900"/><stop offset="0.285" stop-color="#ff6900"/><stop offset="0.33" stop-color="#ff9c00"/><stop offset="0.43" stop-color="#fffc00"/><stop offset="0.435" stop-color="#fdff00"/><stop offset="0.46" stop-color="#cbff00"/><stop offset="0.495" stop-color="#9cff00"/><stop offset="0.515" stop-color="#69ff00"/><stop offset="0.53" stop-color="#4bff00"/><stop offset="0.585" stop-color="#00ff00"/><stop offset="0.6" stop-color="#00ff20"/><stop offset="0.625" stop-color="#00ff6e"/><stop offset="0.635" stop-color="#00ff86"/><stop offset="0.7" stop-color="#00fffe"/><stop offset="0.725" stop-color="#00d6ff"/><stop offset="0.74" stop-color="#00b6ff"/><stop offset="0.755" stop-color="#0085ff"/><stop offset="0.775" stop-color="#0037ff"/><stop offset="0.785" stop-color="#0018ff"/><stop offset="0.79" stop-color="#0211ff"/><stop offset="0.815" stop-color="#0f00ff"/><stop offset="0.91" stop-color="#9900ff"/><stop offset="0.975" stop-color="#db00ff"/><stop offset="1" stop-color="#e900ff"/></linearGradient><linearGradient id="g31" x1="0" y1="0" x2="0" y2="1"><stop offset="0" stop-color="#ff1900"/><stop offset="0.105" stop-color="#ff2600"/><stop offset="0.235" stop-color="#ff4200"/><stop offset="0.3" stop-color="#ff6800"/><stop offset="0.33" stop-color="#ff8c00"/><stop offset="0.385" stop-color="#ffba00"/><stop offset="0.43" stop-color="#ffec00"/><stop offset="0.45" stop-color="#fffd00"/><stop offset="0.455" stop-color="#fbff00"/><stop offset="0.495" stop-color="#b4ff00"/><stop offset="0.515" stop-color="#7fff00"/><stop offset="0.535" stop-color="#56ff00"/><stop offset="0.595" stop-color="#00ff01"/><stop offset="0.625" stop-color="#00ff4e"/><stop offset="0.645" stop-color="#00ff71"/><stop offset="0.68" stop-color="#00ffb9"/><stop offset="0.705" stop-color="#00ffff"/><stop offset="0.755" stop-color="#008cff"/><stop offset="0.78" stop-color="#0041ff"/><stop offset="0.8" stop-color="#0014ff"/><stop offset="0.825" stop-color="#0d00ff"/><stop offset="0.915" stop-color="#9500ff"/><stop offset="0.975" stop-color="#d500ff"/><stop offset="1" stop-color="#e400ff"/></linearGradient><linearGradient id="g32" x1="0" y1="0" x2="0" y2="1"><stop offset="0" stop-color="#ff1500"/><stop offset="0.105" stop-color="#ff2300"/><stop offset="0.245" stop-color="#ff4200"/><stop offset="0.315" stop-color="#ff6900"/><stop offset="0.335" stop-color="#ff8000"/><stop offset="0.365" stop-color="#ff9900"/><stop offset="0.425" stop-color="#ffdc00"/><stop offset="0.465" stop-color="#fffe00"/><stop offset="0.505" stop-color="#b3ff00"/><stop offset="0.54" stop-color="#67ff00"/><stop offset="0.605" stop-color="#00ff01"/><stop offset="0.625" stop-color="#00ff2e"/><stop offset="0.665" stop-color="#00ff6b"/><stop offset="0.675" stop-color="#00ff7f"/><stop offset="0.69" stop-color="#00ffa4"/><stop offset="0.71" stop-color="#00ffeb"/><stop offset="0.715" stop-color="#00feff"/><stop offset="0.74" stop-color="#00a8ff"/><stop offset="0.755" stop-color="#0080ff"/><stop offset="0.8" stop-color="#0035ff"/><stop offset="0.815" stop-color="#0014ff"/><stop offset="0.835" stop-color="#0901ff"/><stop offset="0.93" stop-color="#9900ff"/><stop offset="0.98" stop-color="#ce00ff"/><stop offset="1" stop-color="#d900ff"/></linearGradient><linearGradient id="g33" x1="0" y1="0" x2="0" y2="1"><stop offset="0" stop-color="#ff1700"/><stop offset="0.245" stop-color="#ff4000"/><stop offset="0.325" stop-color="#ff6900"/><stop offset="0.415" stop-color="#ffcc00"/><stop offset="0.475" stop-color="#fffd00"/><stop offset="0.48" stop-color="#fbff00"/><stop offset="0.55" stop-color="#71ff00"/><stop offset="0.615" stop-color="#05ff00"/><stop offset="0.655" stop-color="#00ff32"/><stop offset="0.685" stop-color="#00ff67"/><stop offset="0.725" stop-color="#00ffc9"/><stop offset="0.74" stop-color="#00fff4"/><stop offset="0.745" stop-color="#00fbff"/><stop offset="0.775" stop-color="#0095ff"/><stop offset="0.785" stop-color="#007cff"/><stop offset="0.82" stop-color="#003bff"/><stop offset="0.835" stop-color="#0017ff"/><stop offset="0.855" stop-color="#0b00ff"/><stop offset="0.94" stop-color="#9600ff"/><stop offset="0.985" stop-color="#c500ff"/><stop offset="1" stop-color="#cc00ff"/></linearGradient><linearGradient id="g34" x1="0" y1="0" x2="0" y2="1"><stop offset="0" stop-color="#ff1900"/><stop offset="0.23" stop-color="#ff3b00"/><stop offset="0.335" stop-color="#ff6900"/><stop offset="0.415" stop-color="#ffc400"/><stop offset="0.49" stop-color="#ffff00"/><stop offset="0.505" stop-color="#eaff00"/><stop offset="0.535" stop-color="#9aff00"/><stop offset="0.55" stop-color="#7bff00"/><stop offset="0.635" stop-color="#01ff00"/><stop offset="0.66" stop-color="#00ff1c"/><stop offset="0.69" stop-color="#00ff4e"/><stop offset="0.705" stop-color="#00ff72"/><stop offset="0.745" stop-color="#00fff4"/><stop offset="0.75" stop-color="#00fdff"/><stop offset="0.78" stop-color="#00b4ff"/><stop offset="0.82" stop-color="#0069ff"/><stop offset="0.835" stop-color="#0046ff"/><stop offset="0.85" stop-color="#0019ff"/><stop offset="0.865" stop-color="#0805ff"/><stop offset="0.87" stop-color="#0c00ff"/><stop offset="0.92" stop-color="#6000ff"/><stop offset="0.955" stop-color="#9400ff"/><stop offset="0.985" stop-color="#b500ff"/><stop offset="1" stop-color="#bc00ff"/></linearGradient><linearGradient id="g35" x1="0" y1="0" x2="0" y2="1"><stop offset="0" stop-color="#ff1900"/><stop offset="0.18" stop-color="#ff3500"/><stop offset="0.33" stop-color="#ff6900"/><stop offset="0.395" stop-color="#ff8f00"/><stop offset="0.465" stop-color="#ffd600"/><stop offset="0.51" stop-color="#fffc00"/><stop offset="0.515" stop-color="#f9ff00"/><stop offset="0.53" stop-color="#c7ff00"/><stop offset="0.545" stop-color="#aaff00"/><stop offset="0.6" stop-color="#56ff00"/><stop offset="0.625" stop-color="#25ff00"/><stop offset="0.655" stop-color="#01ff00"/><stop offset="0.69" stop-color="#00ff38"/><stop offset="0.705" stop-color="#00ff57"/><stop offset="0.715" stop-color="#00ff72"/><stop offset="0.745" stop-color="#00ffdd"/><stop offset="0.755" stop-color="#00fff7"/><stop offset="0.76" stop-color="#00fdff"/><stop offset="0.81" stop-color="#00abff"/><stop offset="0.85" stop-color="#0051ff"/><stop offset="0.87" stop-color="#0015ff"/><stop offset="0.885" stop-color="#0a00ff"/><stop offset="0.92" stop-color="#4800ff"/><stop offset="0.97" stop-color="#9700ff"/><stop offset="0.99" stop-color="#ab00ff"/><stop offset="1" stop-color="#ae00ff"/></linearGradient><linearGradient id="g36" x1="0" y1="0" x2="0" y2="1"><stop offset="0" stop-color="#ff1900"/><stop offset="0.17" stop-color="#ff3900"/><stop offset="0.395" stop-color="#ff8300"/><stop offset="0.42" stop-color="#ff9500"/><stop offset="0.525" stop-color="#fffe00"/><stop offset="0.55" stop-color="#c5ff00"/><stop offset="0.585" stop-color="#92ff00"/><stop offset="0.625" stop-color="#4fff00"/><stop offset="0.67" stop-color="#18ff00"/><stop offset="0.68" stop-color="#06ff00"/><stop offset="0.685" stop-color="#00ff08"/><stop offset="0.705" stop-color="#00ff3e"/><stop offset="0.74" stop-color="#00ff7a"/><stop offset="0.79" stop-color="#00fffb"/><stop offset="0.83" stop-color="#00afff"/><stop offset="0.855" stop-color="#006fff"/><stop offset="0.88" stop-color="#001eff"/><stop offset="0.885" stop-color="#0112ff"/><stop offset="0.895" stop-color="#0705ff"/><stop offset="0.9" stop-color="#0c00ff"/><stop offset="0.98" stop-color="#9300ff"/><stop offset="1" stop-color="#a100ff"/></linearGradient><linearGradient id="g37" x1="0" y1="0" x2="0" y2="1"><stop offset="0" stop-color="#ff2a00"/><stop offset="0.155" stop-color="#ff4700"/><stop offset="0.33" stop-color="#ff7700"/><stop offset="0.4" stop-color="#ff8200"/><stop offset="0.42" stop-color="#ff9000"/><stop offset="0.535" stop-color="#fffd00"/><stop offset="0.565" stop-color="#caff00"/><stop offset="0.635" stop-color="#5fff00"/><stop offset="0.68" stop-color="#3cff00"/><stop offset="0.725" stop-color="#01ff00"/><stop offset="0.745" stop-color="#00ff24"/><stop offset="0.77" stop-color="#00ff68"/><stop offset="0.81" stop-color="#00fff6"/><stop offset="0.815" stop-color="#00fbff"/><stop offset="0.845" stop-color="#00b6ff"/><stop offset="0.875" stop-color="#0061ff"/><stop offset="0.9" stop-color="#0112ff"/><stop offset="0.915" stop-color="#0b00ff"/><stop offset="0.975" stop-color="#7c00ff"/><stop offset="0.99" stop-color="#9100ff"/><stop offset="1" stop-color="#9600ff"/></linearGradient><linearGradient id="g38" x1="0" y1="0" x2="0" y2="1"><stop offset="0" stop-color="#ff3a00"/><stop offset="0.245" stop-color="#ff6500"/><stop offset="0.32" stop-color="#ff8200"/><stop offset="0.4" stop-color="#ff9500"/><stop offset="0.42" stop-color="#ffa000"/><stop offset="0.535" stop-color="#fffd00"/><stop offset="0.54" stop-color="#fcff00"/><stop offset="0.57" stop-color="#c9ff00"/><stop offset="0.635" stop-color="#69ff00"/><stop offset="0.67" stop-color="#4fff00"/><stop offset="0.73" stop-color="#00ff01"/><stop offset="0.755" stop-color="#00ff23"/><stop offset="0.77" stop-color="#00ff46"/><stop offset="0.785" stop-color="#00ff75"/><stop offset="0.81" stop-color="#00ffdd"/><stop offset="0.82" stop-color="#00fffd"/><stop offset="0.855" stop-color="#00a7ff"/><stop offset="0.885" stop-color="#0052ff"/><stop offset="0.905" stop-color="#0112ff"/><stop offset="0.92" stop-color="#0d00ff"/><stop offset="0.98" stop-color="#8000ff"/><stop offset="0.995" stop-color="#9400ff"/><stop offset="1" stop-color="#9400ff"/></linearGradient><linearGradient id="g39" x1="0" y1="0" x2="0" y2="1"><stop offset="0" stop-color="#ff4a00"/><stop offset="0.215" stop-color="#ff6a00"/><stop offset="0.34" stop-color="#ff9800"/><stop offset="0.525" stop-color="#ffff00"/><stop offset="0.555" stop-color="#ccff00"/><stop offset="0.615" stop-color="#7eff00"/><stop offset="0.67" stop-color="#45ff00"/><stop offset="0.725" stop-color="#01ff00"/><stop offset="0.755" stop-color="#00ff25"/><stop offset="0.77" stop-color="#00ff47"/><stop offset="0.785" stop-color="#00ff75"/><stop offset="0.805" stop-color="#00ffc7"/><stop offset="0.82" stop-color="#00fffd"/><stop offset="0.875" stop-color="#006fff"/><stop offset="0.905" stop-color="#0112ff"/><stop offset="0.92" stop-color="#0d00ff"/><stop offset="0.98" stop-color="#8000ff"/><stop offset="0.995" stop-color="#9400ff"/><stop offset="1" stop-color="#9400ff"/></linearGradient><linearGradient id="g40" x1="0" y1="0" x2="0" y2="1"><stop offset="0" stop-color="#ff5700"/><stop offset="0.145" stop-color="#ff6900"/><stop offset="0.215" stop-color="#ff9000"/><stop offset="0.4" stop-color="#ffe100"/><stop offset="0.49" stop-color="#ffff00"/><stop offset="0.515" stop-color="#e7ff00"/><stop offset="0.53" stop-color="#c8ff00"/><stop offset="0.54" stop-color="#bbff00"/><stop offset="0.69" stop-color="#1fff00"/><stop offset="0.715" stop-color="#00ff00"/><stop offset="0.745" stop-color="#00ff28"/><stop offset="0.765" stop-color="#00ff51"/><stop offset="0.775" stop-color="#00ff6c"/><stop offset="0.815" stop-color="#00fff2"/><stop offset="0.82" stop-color="#00fdff"/><stop offset="0.855" stop-color="#00a3ff"/><stop offset="0.885" stop-color="#0050ff"/><stop offset="0.905" stop-color="#0111ff"/><stop offset="0.92" stop-color="#0e00ff"/><stop offset="0.98" stop-color="#8100ff"/><stop offset="0.995" stop-color="#9400ff"/><stop offset="1" stop-color="#9400ff"/></linearGradient><linearGradient id="g41" x1="0" y1="0" x2="0" y2="1"><stop offset="0" stop-color="#ff6200"/><stop offset="0.08" stop-color="#ff6900"/><stop offset="0.105" stop-color="#ff7100"/><stop offset="0.225" stop-color="#ffc500"/><stop offset="0.33" stop-color="#ffed00"/><stop offset="0.4" stop-color="#feff00"/><stop offset="0.505" stop-color="#c6ff00"/><stop offset="0.55" stop-color="#86ff00"/><stop offset="0.655" stop-color="#30ff00"/><stop offset="0.7" stop-color="#05ff00"/><stop offset="0.705" stop-color="#00ff02"/><stop offset="0.73" stop-color="#00ff2a"/><stop offset="0.76" stop-color="#00ff65"/><stop offset="0.81" stop-color="#00fff8"/><stop offset="0.815" stop-color="#00f8ff"/><stop offset="0.855" stop-color="#0098ff"/><stop offset="0.885" stop-color="#0047ff"/><stop offset="0.9" stop-color="#0016ff"/><stop offset="0.915" stop-color="#0a01ff"/><stop offset="0.98" stop-color="#8500ff"/><stop offset="0.995" stop-color="#9800ff"/><stop offset="1" stop-color="#9800ff"/></linearGradient><linearGradient id="g42" x1="0" y1="0" x2="0" y2="1"><stop offset="0" stop-color="#ff7200"/><stop offset="0.11" stop-color="#ff9200"/><stop offset="0.22" stop-color="#fff100"/><stop offset="0.31" stop-color="#fcff00"/><stop offset="0.335" stop-color="#f0ff00"/><stop offset="0.39" stop-color="#c9ff00"/><stop offset="0.505" stop-color="#99ff00"/><stop offset="0.55" stop-color="#5fff00"/><stop offset="0.635" stop-color="#1cff00"/><stop offset="0.665" stop-color="#12ff00"/><stop offset="0.685" stop-color="#01ff00"/><stop offset="0.705" stop-color="#00ff19"/><stop offset="0.765" stop-color="#00ff8b"/><stop offset="0.78" stop-color="#00ffae"/><stop offset="0.805" stop-color="#00fffc"/><stop offset="0.865" stop-color="#0073ff"/><stop offset="0.9" stop-color="#0111ff"/><stop offset="0.91" stop-color="#0803ff"/><stop offset="0.98" stop-color="#8900ff"/><stop offset="0.99" stop-color="#9700ff"/><stop offset="1" stop-color="#9a00ff"/></linearGradient><linearGradient id="g43" x1="0" y1="0" x2="0" y2="1"><stop offset="0" stop-color="#ff8a00"/><stop offset="0.105" stop-color="#ffb200"/><stop offset="0.17" stop-color="#ffe800"/><stop offset="0.21" stop-color="#fcff00"/><stop offset="0.225" stop-color="#efff00"/><stop offset="0.255" stop-color="#e5ff00"/><stop offset="0.29" stop-color="#c7ff00"/><stop offset="0.405" stop-color="#83ff00"/><stop offset="0.515" stop-color="#61ff00"/><stop offset="0.605" stop-color="#1bff00"/><stop offset="0.66" stop-color="#00ff01"/><stop offset="0.68" stop-color="#00ff10"/><stop offset="0.7" stop-color="#00ff28"/><stop offset="0.765" stop-color="#00ffb7"/><stop offset="0.79" stop-color="#00fffb"/><stop offset="0.855" stop-color="#0073ff"/><stop offset="0.89" stop-color="#0013ff"/><stop offset="0.91" stop-color="#1100ff"/><stop offset="0.98" stop-color="#9400ff"/><stop offset="1" stop-color="#a200ff"/></linearGradient><linearGradient id="g44" x1="0" y1="0" x2="0" y2="1"><stop offset="0" stop-color="#ffae00"/><stop offset="0.165" stop-color="#fffe00"/><stop offset="0.21" stop-color="#c9ff00"/><stop offset="0.22" stop-color="#c3ff00"/><stop offset="0.265" stop-color="#b0ff00"/><stop offset="0.405" stop-color="#63ff00"/><stop offset="0.54" stop-color="#2fff00"/><stop offset="0.625" stop-color="#00ff00"/><stop offset="0.66" stop-color="#00ff18"/><stop offset="0.7" stop-color="#00ff47"/><stop offset="0.72" stop-color="#00ff72"/><stop offset="0.77" stop-color="#00fff7"/><stop offset="0.775" stop-color="#00fbff"/><stop offset="0.84" stop-color="#007bff"/><stop offset="0.865" stop-color="#0041ff"/><stop offset="0.88" stop-color="#0014ff"/><stop offset="0.895" stop-color="#0803ff"/><stop offset="0.92" stop-color="#3000ff"/><stop offset="0.975" stop-color="#9600ff"/><stop offset="0.99" stop-color="#a600ff"/><stop offset="1" stop-color="#aa00ff"/></linearGradient><linearGradient id="g45" x1="0" y1="0" x2="0" y2="1"><stop offset="0" stop-color="#ffdc00"/><stop offset="0.09" stop-color="#ffff00"/><stop offset="0.14" stop-color="#c8ff00"/><stop offset="0.22" stop-color="#8fff00"/><stop offset="0.41" stop-color="#39ff00"/><stop offset="0.585" stop-color="#00ff01"/><stop offset="0.65" stop-color="#00ff2d"/><stop offset="0.69" stop-color="#00ff61"/><stop offset="0.7" stop-color="#00ff75"/><stop offset="0.74" stop-color="#00fff7"/><stop offset="0.745" stop-color="#00f9ff"/><stop offset="0.81" stop-color="#0096ff"/><stop offset="0.85" stop-color="#004bff"/><stop offset="0.87" stop-color="#0019ff"/><stop offset="0.89" stop-color="#0b00ff"/><stop offset="0.97" stop-color="#9800ff"/><stop offset="0.985" stop-color="#aa00ff"/><stop offset="1" stop-color="#b200ff"/></linearGradient><linearGradient id="g46" x1="0" y1="0" x2="0" y2="1"><stop offset="0" stop-color="#fffa00"/><stop offset="0.025" stop-color="#fdff00"/><stop offset="0.08" stop-color="#c6ff00"/><stop offset="0.22" stop-color="#63ff00"/><stop offset="0.395" stop-color="#1bff00"/><stop offset="0.51" stop-color="#00ff00"/><stop offset="0.595" stop-color="#00ff27"/><stop offset="0.655" stop-color="#00ff64"/><stop offset="0.69" stop-color="#00ffa3"/><stop offset="0.725" stop-color="#00ffff"/><stop offset="0.745" stop-color="#00d4ff"/><stop offset="0.82" stop-color="#0064ff"/><stop offset="0.86" stop-color="#0018ff"/><stop offset="0.88" stop-color="#0a01ff"/><stop offset="0.965" stop-color="#9900ff"/><stop offset="0.985" stop-color="#b300ff"/><stop offset="1" stop-color="#bb00ff"/></linearGradient><linearGradient id="g47" x1="0" y1="0" x2="0" y2="1"><stop offset="0" stop-color="#d4ff00"/><stop offset="0.115" stop-color="#79ff00"/><stop offset="0.21" stop-color="#3cff00"/><stop offset="0.39" stop-color="#00ff00"/><stop offset="0.485" stop-color="#00ff15"/><stop offset="0.595" stop-color="#00ff55"/><stop offset="0.62" stop-color="#00ff6e"/><stop offset="0.645" stop-color="#00ff94"/><stop offset="0.695" stop-color="#00fff8"/><stop offset="0.7" stop-color="#00fcff"/><stop offset="0.745" stop-color="#00abff"/><stop offset="0.81" stop-color="#0058ff"/><stop offset="0.85" stop-color="#0112ff"/><stop offset="0.87" stop-color="#0b00ff"/><stop offset="0.96" stop-color="#9c00ff"/><stop offset="0.985" stop-color="#bd00ff"/><stop offset="1" stop-color="#c500ff"/></linearGradient><linearGradient id="g48" x1="0" y1="0" x2="0" y2="1"><stop offset="0" stop-color="#91ff00"/><stop offset="0.2" stop-color="#1cff00"/><stop offset="0.245" stop-color="#09ff00"/><stop offset="0.31" stop-color="#00ff06"/><stop offset="0.485" stop-color="#00ff3a"/><stop offset="0.56" stop-color="#00ff6e"/><stop offset="0.59" stop-color="#00ff8c"/><stop offset="0.635" stop-color="#00ffca"/><stop offset="0.665" stop-color="#00fffe"/><stop offset="0.715" stop-color="#00b1ff"/><stop offset="0.8" stop-color="#004bff"/><stop offset="0.83" stop-color="#001cff"/><stop offset="0.835" stop-color="#0113ff"/><stop offset="0.86" stop-color="#1000ff"/><stop offset="0.975" stop-color="#bb00ff"/><stop offset="0.99" stop-color="#cc00ff"/><stop offset="1" stop-color="#d000ff"/></linearGradient><linearGradient id="g49" x1="0" y1="0" x2="0" y2="1"><stop offset="0" stop-color="#59ff00"/><stop offset="0.19" stop-color="#00ff00"/><stop offset="0.255" stop-color="#00ff1e"/><stop offset="0.33" stop-color="#00ff2b"/><stop offset="0.475" stop-color="#00ff5f"/><stop offset="0.495" stop-color="#00ff6c"/><stop offset="0.515" stop-color="#00ff86"/><stop offset="0.59" stop-color="#00ffd3"/><stop offset="0.62" stop-color="#00fffa"/><stop offset="0.645" stop-color="#00e4ff"/><stop offset="0.69" stop-color="#00a4ff"/><stop offset="0.755" stop-color="#005dff"/><stop offset="0.79" stop-color="#003fff"/><stop offset="0.815" stop-color="#001aff"/><stop offset="0.845" stop-color="#0e00ff"/><stop offset="0.975" stop-color="#c600ff"/><stop offset="0.99" stop-color="#d600ff"/><stop offset="1" stop-color="#d900ff"/></linearGradient><linearGradient id="g50" x1="0" y1="0" x2="0" y2="1"><stop offset="0" stop-color="#2aff00"/><stop offset="0.11" stop-color="#00ff00"/><stop offset="0.225" stop-color="#00ff3d"/><stop offset="0.4" stop-color="#00ff75"/><stop offset="0.485" stop-color="#00ff9f"/><stop offset="0.55" stop-color="#00fffc"/><stop offset="0.605" stop-color="#00d2ff"/><stop offset="0.745" stop-color="#0041ff"/><stop offset="0.78" stop-color="#002fff"/><stop offset="0.8" stop-color="#0017ff"/><stop offset="0.83" stop-color="#0d00ff"/><stop offset="0.975" stop-color="#d000ff"/><stop offset="1" stop-color="#e200ff"/></linearGradient><linearGradient id="g51" x1="0" y1="0" x2="0" y2="1"><stop offset="0" stop-color="#0aff00"/><stop offset="0.03" stop-color="#01ff00"/><stop offset="0.05" stop-color="#00ff08"/><stop offset="0.265" stop-color="#00ff88"/><stop offset="0.34" stop-color="#00ffa1"/><stop offset="0.47" stop-color="#00ffe2"/><stop offset="0.495" stop-color="#00fffb"/><stop offset="0.52" stop-color="#00dbff"/><stop offset="0.54" stop-color="#00c7ff"/><stop offset="0.69" stop-color="#004eff"/><stop offset="0.745" stop-color="#003aff"/><stop offset="0.78" stop-color="#0112ff"/><stop offset="0.81" stop-color="#0b00ff"/><stop offset="0.97" stop-color="#d400ff"/><stop offset="0.985" stop-color="#e300ff"/><stop offset="1" stop-color="#ea00ff"/></linearGradient><linearGradient id="g52" x1="0" y1="0" x2="0" y2="1"><stop offset="0" stop-color="#00ff18"/><stop offset="0.02" stop-color="#00ff20"/><stop offset="0.145" stop-color="#00ff6d"/><stop offset="0.215" stop-color="#00ffa8"/><stop offset="0.265" stop-color="#00ffdc"/><stop offset="0.34" stop-color="#00ffff"/><stop offset="0.48" stop-color="#00cbff"/><stop offset="0.495" stop-color="#00bdff"/><stop offset="0.52" stop-color="#0096ff"/><stop offset="0.55" stop-color="#007cff"/><stop offset="0.615" stop-color="#0057ff"/><stop offset="0.69" stop-color="#0023ff"/><stop offset="0.78" stop-color="#0902ff"/><stop offset="0.81" stop-color="#2400ff"/><stop offset="0.905" stop-color="#9800ff"/><stop offset="0.96" stop-color="#d400ff"/><stop offset="0.985" stop-color="#eb00ff"/><stop offset="1" stop-color="#f000ff"/></linearGradient><linearGradient id="g53" x1="0" y1="0" x2="0" y2="1"><stop offset="0" stop-color="#00ff41"/><stop offset="0.015" stop-color="#00ff46"/><stop offset="0.07" stop-color="#00ff6e"/><stop offset="0.225" stop-color="#00feff"/><stop offset="0.255" stop-color="#00dfff"/><stop offset="0.28" stop-color="#00cfff"/><stop offset="0.485" stop-color="#0085ff"/><stop offset="0.525" stop-color="#0053ff"/><stop offset="0.625" stop-color="#0016ff"/><stop offset="0.7" stop-color="#0a00ff"/><stop offset="0.745" stop-color="#2700ff"/><stop offset="0.775" stop-color="#2900ff"/><stop offset="0.79" stop-color="#3200ff"/><stop offset="0.88" stop-color="#9500ff"/><stop offset="0.95" stop-color="#d800ff"/><stop offset="0.98" stop-color="#f000ff"/><stop offset="1" stop-color="#f600ff"/></linearGradient><linearGradient id="g54" x1="0" y1="0" x2="0" y2="1"><stop offset="0" stop-color="#00ff67"/><stop offset="0.025" stop-color="#00ff76"/><stop offset="0.105" stop-color="#00ffdc"/><stop offset="0.14" stop-color="#00feff"/><stop offset="0.275" stop-color="#0093ff"/><stop offset="0.4" stop-color="#0062ff"/><stop offset="0.48" stop-color="#0051ff"/><stop offset="0.55" stop-color="#0013ff"/><stop offset="0.63" stop-color="#0902ff"/><stop offset="0.7" stop-color="#2b00ff"/><stop offset="0.755" stop-color="#3800ff"/><stop offset="0.85" stop-color="#9500ff"/><stop offset="0.94" stop-color="#df00ff"/><stop offset="0.97" stop-color="#f300ff"/><stop offset="1" stop-color="#fc00ff"/></linearGradient><linearGradient id="g55" x1="0" y1="0" x2="0" y2="1"><stop offset="0" stop-color="#00ff7b"/><stop offset="0.015" stop-color="#00ff84"/><stop offset="0.05" stop-color="#00ffb5"/><stop offset="0.09" stop-color="#00ffff"/><stop offset="0.125" stop-color="#00ceff"/><stop offset="0.17" stop-color="#00a1ff"/><stop offset="0.32" stop-color="#0055ff"/><stop offset="0.42" stop-color="#0032ff"/><stop offset="0.515" stop-color="#0020ff"/><stop offset="0.54" stop-color="#0015ff"/><stop offset="0.64" stop-color="#0a00ff"/><stop offset="0.69" stop-color="#1e00ff"/><stop offset="0.735" stop-color="#3d00ff"/><stop offset="0.83" stop-color="#9700ff"/><stop offset="0.92" stop-color="#e300ff"/><stop offset="0.96" stop-color="#f800ff"/><stop offset="1" stop-color="#fe00ff"/></linearGradient><linearGradient id="g56" x1="0" y1="0" x2="0" y2="1"><stop offset="0" stop-color="#00ff76"/><stop offset="0.015" stop-color="#00ff82"/><stop offset="0.07" stop-color="#00ffdd"/><stop offset="0.095" stop-color="#00fdff"/><stop offset="0.125" stop-color="#00dfff"/><stop offset="0.165" stop-color="#00c1ff"/><stop offset="0.265" stop-color="#0087ff"/><stop offset="0.32" stop-color="#006eff"/><stop offset="0.43" stop-color="#0048ff"/><stop offset="0.53" stop-color="#0030ff"/><stop offset="0.585" stop-color="#0014ff"/><stop offset="0.675" stop-color="#0a00ff"/><stop offset="0.735" stop-color="#2b00ff"/><stop offset="0.785" stop-color="#5a00ff"/><stop offset="0.8" stop-color="#5c00ff"/><stop offset="0.81" stop-color="#5500ff"/><stop offset="0.82" stop-color="#5a00ff"/><stop offset="0.86" stop-color="#9700ff"/><stop offset="0.91" stop-color="#cb00ff"/><stop offset="0.96" stop-color="#ef00ff"/><stop offset="1" stop-color="#fe00ff"/></linearGradient><linearGradient id="g57" x1="0" y1="0" x2="0" y2="1"><stop offset="0" stop-color="#00ff5e"/><stop offset="0.02" stop-color="#00ff6d"/><stop offset="0.08" stop-color="#00ffcb"/><stop offset="0.105" stop-color="#00ffec"/><stop offset="0.125" stop-color="#00fdff"/><stop offset="0.265" stop-color="#00a7ff"/><stop offset="0.32" stop-color="#008dff"/><stop offset="0.555" stop-color="#003dff"/><stop offset="0.63" stop-color="#0014ff"/><stop offset="0.7" stop-color="#0902ff"/><stop offset="0.74" stop-color="#1f00ff"/><stop offset="0.79" stop-color="#4e00ff"/><stop offset="0.81" stop-color="#4a00ff"/><stop offset="0.82" stop-color="#5000ff"/><stop offset="0.865" stop-color="#9500ff"/><stop offset="0.905" stop-color="#c000ff"/><stop offset="0.96" stop-color="#ec00ff"/><stop offset="1" stop-color="#fc00ff"/></linearGradient><linearGradient id="g58" x1="0" y1="0" x2="0" y2="1"><stop offset="0" stop-color="#00ff3f"/><stop offset="0.005" stop-color="#00ff3f"/><stop offset="0.025" stop-color="#00ff53"/><stop offset="0.11" stop-color="#00ffcc"/><stop offset="0.16" stop-color="#00feff"/><stop offset="0.215" stop-color="#00e5ff"/><stop offset="0.265" stop-color="#00bfff"/><stop offset="0.31" stop-color="#00a9ff"/><stop offset="0.405" stop-color="#0087ff"/><stop offset="0.485" stop-color="#0072ff"/><stop offset="0.615" stop-color="#0036ff"/><stop offset="0.665" stop-color="#0016ff"/><stop offset="0.725" stop-color="#0901ff"/><stop offset="0.745" stop-color="#1500ff"/><stop offset="0.79" stop-color="#4100ff"/><stop offset="0.81" stop-color="#4100ff"/><stop offset="0.82" stop-color="#4700ff"/><stop offset="0.87" stop-color="#9300ff"/><stop offset="0.905" stop-color="#b900ff"/><stop offset="0.96" stop-color="#e800ff"/><stop offset="1" stop-color="#fa00ff"/></linearGradient><linearGradient id="g59" x1="0" y1="0" x2="0" y2="1"><stop offset="0" stop-color="#00ff2b"/><stop offset="0.005" stop-color="#00ff2b"/><stop offset="0.025" stop-color="#00ff40"/><stop offset="0.145" stop-color="#00ffdc"/><stop offset="0.17" stop-color="#00fff4"/><stop offset="0.19" stop-color="#00feff"/><stop offset="0.22" stop-color="#00efff"/><stop offset="0.265" stop-color="#00caff"/><stop offset="0.29" stop-color="#00beff"/><stop offset="0.56" stop-color="#0060ff"/><stop offset="0.665" stop-color="#002dff"/><stop offset="0.695" stop-color="#0017ff"/><stop offset="0.74" stop-color="#0903ff"/><stop offset="0.79" stop-color="#3500ff"/><stop offset="0.81" stop-color="#3800ff"/><stop offset="0.82" stop-color="#3f00ff"/><stop offset="0.88" stop-color="#9800ff"/><stop offset="0.905" stop-color="#b300ff"/><stop offset="0.965" stop-color="#e800ff"/><stop offset="1" stop-color="#f900ff"/></linearGradient><linearGradient id="g60" x1="0" y1="0" x2="0" y2="1"><stop offset="0" stop-color="#00ff1f"/><stop offset="0.02" stop-color="#00ff2d"/><stop offset="0.155" stop-color="#00ffd4"/><stop offset="0.21" stop-color="#00ffff"/><stop offset="0.265" stop-color="#00d2ff"/><stop offset="0.3" stop-color="#00c0ff"/><stop offset="0.41" stop-color="#0097ff"/><stop offset="0.515" stop-color="#007dff"/><stop offset="0.56" stop-color="#006dff"/><stop offset="0.68" stop-color="#0034ff"/><stop offset="0.72" stop-color="#0013ff"/><stop offset="0.735" stop-color="#030dff"/><stop offset="0.76" stop-color="#0e00ff"/><stop offset="0.79" stop-color="#2c00ff"/><stop offset="0.82" stop-color="#3a00ff"/><stop offset="0.88" stop-color="#9300ff"/><stop offset="0.9" stop-color="#a900ff"/><stop offset="0.965" stop-color="#e600ff"/><stop offset="1" stop-color="#f700ff"/></linearGradient><linearGradient id="g61" x1="0" y1="0" x2="0" y2="1"><stop offset="0" stop-color="#00ff1b"/><stop offset="0.015" stop-color="#00ff23"/><stop offset="0.085" stop-color="#00ff70"/><stop offset="0.16" stop-color="#00ffcb"/><stop offset="0.225" stop-color="#00ffff"/><stop offset="0.265" stop-color="#00daff"/><stop offset="0.32" stop-color="#00bcff"/><stop offset="0.41" stop-color="#009bff"/><stop offset="0.515" stop-color="#0086ff"/><stop offset="0.57" stop-color="#0072ff"/><stop offset="0.68" stop-color="#003dff"/><stop offset="0.745" stop-color="#0210ff"/><stop offset="0.77" stop-color="#0b00ff"/><stop offset="0.81" stop-color="#2a00ff"/><stop offset="0.895" stop-color="#a000ff"/><stop offset="0.96" stop-color="#df00ff"/><stop offset="0.985" stop-color="#f100ff"/><stop offset="1" stop-color="#f500ff"/></linearGradient><linearGradient id="g62" x1="0" y1="0" x2="0" y2="1"><stop offset="0" stop-color="#00ff16"/><stop offset="0.02" stop-color="#00ff23"/><stop offset="0.16" stop-color="#00ffbf"/><stop offset="0.235" stop-color="#00fcff"/><stop offset="0.27" stop-color="#00dbff"/><stop offset="0.335" stop-color="#00bbff"/><stop offset="0.42" stop-color="#009eff"/><stop offset="0.56" stop-color="#007fff"/><stop offset="0.69" stop-color="#003bff"/><stop offset="0.735" stop-color="#0015ff"/><stop offset="0.775" stop-color="#0902ff"/><stop offset="0.81" stop-color="#2200ff"/><stop offset="0.89" stop-color="#9600ff"/><stop offset="0.92" stop-color="#b600ff"/><stop offset="0.97" stop-color="#e500ff"/><stop offset="1" stop-color="#f400ff"/></linearGradient><linearGradient id="g63" x1="0" y1="0" x2="0" y2="1"><stop offset="0" stop-color="#00ff0f"/><stop offset="0.02" stop-color="#00ff1b"/><stop offset="0.125" stop-color="#00ff92"/><stop offset="0.21" stop-color="#00ffdd"/><stop offset="0.24" stop-color="#00fcff"/><stop offset="0.28" stop-color="#00daff"/><stop offset="0.4" stop-color="#00abff"/><stop offset="0.475" stop-color="#0096ff"/><stop offset="0.505" stop-color="#00a1ff"/><stop offset="0.52" stop-color="#009eff"/><stop offset="0.7" stop-color="#0038ff"/><stop offset="0.735" stop-color="#0013ff"/><stop offset="0.775" stop-color="#0901ff"/><stop offset="0.81" stop-color="#2000ff"/><stop offset="0.89" stop-color="#9300ff"/><stop offset="0.93" stop-color="#be00ff"/><stop offset="0.975" stop-color="#e800ff"/><stop offset="1" stop-color="#f400ff"/></linearGradient><linearGradient id="g64" x1="0" y1="0" x2="0" y2="1"><stop offset="0" stop-color="#00ff06"/><stop offset="0.02" stop-color="#00ff13"/><stop offset="0.125" stop-color="#00ff89"/><stop offset="0.21" stop-color="#00ffd1"/><stop offset="0.245" stop-color="#00feff"/><stop offset="0.275" stop-color="#00e3ff"/><stop offset="0.335" stop-color="#00c8ff"/><stop offset="0.475" stop-color="#0099ff"/><stop offset="0.56" stop-color="#008aff"/><stop offset="0.7" stop-color="#0038ff"/><stop offset="0.735" stop-color="#0014ff"/><stop offset="0.78" stop-color="#0a00ff"/><stop offset="0.81" stop-color="#1e00ff"/><stop offset="0.895" stop-color="#9700ff"/><stop offset="0.92" stop-color="#b200ff"/><stop offset="0.97" stop-color="#e300ff"/><stop offset="1" stop-color="#f300ff"/></linearGradient><linearGradient id="g65" x1="0" y1="0" x2="0" y2="1"><stop offset="0" stop-color="#03ff00"/><stop offset="0.015" stop-color="#00ff05"/><stop offset="0.125" stop-color="#00ff7f"/><stop offset="0.21" stop-color="#00ffc2"/><stop offset="0.255" stop-color="#00fdff"/><stop offset="0.28" stop-color="#00e9ff"/><stop offset="0.345" stop-color="#00cdff"/><stop offset="0.47" stop-color="#00a1ff"/><stop offset="0.505" stop-color="#009dff"/><stop offset="0.56" stop-color="#008cff"/><stop offset="0.7" stop-color="#0039ff"/><stop offset="0.74" stop-color="#0112ff"/><stop offset="0.785" stop-color="#0b00ff"/><stop offset="0.82" stop-color="#2800ff"/><stop offset="0.895" stop-color="#9400ff"/><stop offset="0.91" stop-color="#a500ff"/><stop offset="0.97" stop-color="#e200ff"/><stop offset="1" stop-color="#f300ff"/></linearGradient><linearGradient id="g66" x1="0" y1="0" x2="0" y2="1"><stop offset="0" stop-color="#0bff00"/><stop offset="0.02" stop-color="#00ff02"/><stop offset="0.105" stop-color="#00ff62"/><stop offset="0.21" stop-color="#00ffac"/><stop offset="0.27" stop-color="#00ffff"/><stop offset="0.33" stop-color="#00dfff"/><stop offset="0.405" stop-color="#00c1ff"/><stop offset="0.47" stop-color="#00adff"/><stop offset="0.52" stop-color="#00a5ff"/><stop offset="0.7" stop-color="#0039ff"/><stop offset="0.74" stop-color="#0013ff"/><stop offset="0.785" stop-color="#0a00ff"/><stop offset="0.82" stop-color="#2700ff"/><stop offset="0.9" stop-color="#9800ff"/><stop offset="0.93" stop-color="#b900ff"/><stop offset="0.975" stop-color="#e400ff"/><stop offset="1" stop-color="#f200ff"/></linearGradient><linearGradient id="g67" x1="0" y1="0" x2="0" y2="1"><stop offset="0" stop-color="#12ff00"/><stop offset="0.025" stop-color="#01ff00"/><stop offset="0.105" stop-color="#00ff56"/><stop offset="0.21" stop-color="#00ff94"/><stop offset="0.225" stop-color="#00ffa3"/><stop offset="0.265" stop-color="#00ffdd"/><stop offset="0.305" stop-color="#00fffd"/><stop offset="0.4" stop-color="#00d3ff"/><stop offset="0.55" stop-color="#0099ff"/><stop offset="0.7" stop-color="#003bff"/><stop offset="0.74" stop-color="#0014ff"/><stop offset="0.775" stop-color="#0706ff"/><stop offset="0.79" stop-color="#0b00ff"/><stop offset="0.81" stop-color="#1b00ff"/><stop offset="0.9" stop-color="#9500ff"/><stop offset="0.93" stop-color="#b700ff"/><stop offset="0.975" stop-color="#e200ff"/><stop offset="1" stop-color="#f000ff"/></linearGradient><linearGradient id="g68" x1="0" y1="0" x2="0" y2="1"><stop offset="0" stop-color="#1aff00"/><stop offset="0.015" stop-color="#13ff00"/><stop offset="0.035" stop-color="#00ff00"/><stop offset="0.115" stop-color="#00ff4c"/><stop offset="0.21" stop-color="#00ff78"/><stop offset="0.31" stop-color="#00ffde"/><stop offset="0.355" stop-color="#00fffe"/><stop offset="0.505" stop-color="#00bcff"/><stop offset="0.7" stop-color="#003dff"/><stop offset="0.745" stop-color="#0013ff"/><stop offset="0.765" stop-color="#040bff"/><stop offset="0.79" stop-color="#0b00ff"/><stop offset="0.81" stop-color="#1b00ff"/><stop offset="0.93" stop-color="#b500ff"/><stop offset="0.975" stop-color="#e000ff"/><stop offset="1" stop-color="#ee00ff"/></linearGradient><linearGradient id="g69" x1="0" y1="0" x2="0" y2="1"><stop offset="0" stop-color="#44ff00"/><stop offset="0.015" stop-color="#3cff00"/><stop offset="0.075" stop-color="#01ff00"/><stop offset="0.135" stop-color="#00ff34"/><stop offset="0.215" stop-color="#00ff56"/><stop offset="0.25" stop-color="#00ff6e"/><stop offset="0.41" stop-color="#00feff"/><stop offset="0.485" stop-color="#00dfff"/><stop offset="0.52" stop-color="#00bbff"/><stop offset="0.7" stop-color="#003fff"/><stop offset="0.75" stop-color="#0112ff"/><stop offset="0.79" stop-color="#0a00ff"/><stop offset="0.81" stop-color="#1a00ff"/><stop offset="0.93" stop-color="#b200ff"/><stop offset="0.98" stop-color="#e200ff"/><stop offset="1" stop-color="#ec00ff"/></linearGradient><linearGradient id="g70" x1="0" y1="0" x2="0" y2="1"><stop offset="0" stop-color="#93ff00"/><stop offset="0.015" stop-color="#8aff00"/><stop offset="0.105" stop-color="#1bff00"/><stop offset="0.14" stop-color="#00ff02"/><stop offset="0.17" stop-color="#00ff16"/><stop offset="0.22" stop-color="#00ff2b"/><stop offset="0.31" stop-color="#00ff6c"/><stop offset="0.42" stop-color="#00ffdc"/><stop offset="0.475" stop-color="#00ffff"/><stop offset="0.505" stop-color="#00eaff"/><stop offset="0.56" stop-color="#00aaff"/><stop offset="0.745" stop-color="#0014ff"/><stop offset="0.79" stop-color="#0901ff"/><stop offset="0.81" stop-color="#1900ff"/><stop offset="0.91" stop-color="#9a00ff"/><stop offset="0.965" stop-color="#d200ff"/><stop offset="1" stop-color="#e900ff"/></linearGradient><linearGradient id="g71" x1="0" y1="0" x2="0" y2="1"><stop offset="0" stop-color="#fff100"/><stop offset="0.03" stop-color="#fffe00"/><stop offset="0.035" stop-color="#f8ff00"/><stop offset="0.105" stop-color="#78ff00"/><stop offset="0.185" stop-color="#00ff00"/><stop offset="0.19" stop-color="#00ff09"/><stop offset="0.21" stop-color="#00ff24"/><stop offset="0.265" stop-color="#00ff42"/><stop offset="0.315" stop-color="#00ff6c"/><stop offset="0.375" stop-color="#00ffc3"/><stop offset="0.435" stop-color="#00ffff"/><stop offset="0.46" stop-color="#00efff"/><stop offset="0.51" stop-color="#00dbff"/><stop offset="0.67" stop-color="#004dff"/><stop offset="0.745" stop-color="#0014ff"/><stop offset="0.795" stop-color="#0b00ff"/><stop offset="0.825" stop-color="#2900ff"/><stop offset="0.91" stop-color="#9900ff"/><stop offset="0.97" stop-color="#d400ff"/><stop offset="1" stop-color="#e600ff"/></linearGradient><linearGradient id="g72" x1="0" y1="0" x2="0" y2="1"><stop offset="0" stop-color="#ff9600"/><stop offset="0.03" stop-color="#ffaa00"/><stop offset="0.1" stop-color="#feff00"/><stop offset="0.12" stop-color="#c3ff00"/><stop offset="0.2" stop-color="#16ff00"/><stop offset="0.215" stop-color="#00ff02"/><stop offset="0.235" stop-color="#00ff13"/><stop offset="0.285" stop-color="#00ff2d"/><stop offset="0.32" stop-color="#00ff4c"/><stop offset="0.35" stop-color="#00ff6e"/><stop offset="0.39" stop-color="#00ffab"/><stop offset="0.465" stop-color="#00feff"/><stop offset="0.505" stop-color="#00ecff"/><stop offset="0.535" stop-color="#00d4ff"/><stop offset="0.59" stop-color="#008cff"/><stop offset="0.69" stop-color="#0039ff"/><stop offset="0.725" stop-color="#0015ff"/><stop offset="0.785" stop-color="#0903ff"/><stop offset="0.81" stop-color="#2100ff"/><stop offset="0.89" stop-color="#9400ff"/><stop offset="0.94" stop-color="#cc00ff"/><stop offset="0.975" stop-color="#ee00ff"/><stop offset="1" stop-color="#f900ff"/></linearGradient><linearGradient id="g73" x1="0" y1="0" x2="0" y2="1"><stop offset="0" stop-color="#ff7100"/><stop offset="0.015" stop-color="#ff7600"/><stop offset="0.07" stop-color="#ff9d00"/><stop offset="0.15" stop-color="#fffc00"/><stop offset="0.155" stop-color="#f6ff00"/><stop offset="0.165" stop-color="#cfff00"/><stop offset="0.19" stop-color="#84ff00"/><stop offset="0.21" stop-color="#52ff00"/><stop offset="0.255" stop-color="#1aff00"/><stop offset="0.285" stop-color="#00ff02"/><stop offset="0.35" stop-color="#00ff40"/><stop offset="0.47" stop-color="#00ffe0"/><stop offset="0.505" stop-color="#00fdff"/><stop offset="0.545" stop-color="#00dbff"/><stop offset="0.58" stop-color="#00a1ff"/><stop offset="0.59" stop-color="#0095ff"/><stop offset="0.655" stop-color="#0061ff"/><stop offset="0.73" stop-color="#0015ff"/><stop offset="0.77" stop-color="#030eff"/><stop offset="0.79" stop-color="#0902ff"/><stop offset="0.84" stop-color="#4400ff"/><stop offset="0.89" stop-color="#9500ff"/><stop offset="0.965" stop-color="#e900ff"/><stop offset="0.985" stop-color="#f900ff"/><stop offset="1" stop-color="#fd00ff"/></linearGradient><linearGradient id="g74" x1="0" y1="0" x2="0" y2="1"><stop offset="0" stop-color="#ff6400"/><stop offset="0.04" stop-color="#ff6900"/><stop offset="0.105" stop-color="#ff8c00"/><stop offset="0.145" stop-color="#ffbe00"/><stop offset="0.185" stop-color="#fffd00"/><stop offset="0.2" stop-color="#c4ff00"/><stop offset="0.215" stop-color="#a4ff00"/><stop offset="0.285" stop-color="#34ff00"/><stop offset="0.32" stop-color="#0aff00"/><stop offset="0.335" stop-color="#00ff04"/><stop offset="0.425" stop-color="#00ff70"/><stop offset="0.505" stop-color="#00ffe4"/><stop offset="0.53" stop-color="#00ffff"/><stop offset="0.55" stop-color="#00e8ff"/><stop offset="0.58" stop-color="#00b0ff"/><stop offset="0.59" stop-color="#00a4ff"/><stop offset="0.66" stop-color="#0068ff"/><stop offset="0.735" stop-color="#0019ff"/><stop offset="0.77" stop-color="#0112ff"/><stop offset="0.795" stop-color="#0902ff"/><stop offset="0.84" stop-color="#3d00ff"/><stop offset="0.895" stop-color="#9400ff"/><stop offset="0.95" stop-color="#d700ff"/><stop offset="0.98" stop-color="#f500ff"/><stop offset="1" stop-color="#fd00ff"/></linearGradient><linearGradient id="g75" x1="0" y1="0" x2="0" y2="1"><stop offset="0" stop-color="#ff5900"/><stop offset="0.1" stop-color="#ff6900"/><stop offset="0.125" stop-color="#ff7a00"/><stop offset="0.16" stop-color="#ff9a00"/><stop offset="0.2" stop-color="#ffe200"/><stop offset="0.22" stop-color="#fffc00"/><stop offset="0.225" stop-color="#f8ff00"/><stop offset="0.245" stop-color="#c5ff00"/><stop offset="0.31" stop-color="#49ff00"/><stop offset="0.37" stop-color="#00ff03"/><stop offset="0.46" stop-color="#00ff6e"/><stop offset="0.505" stop-color="#00ffbf"/><stop offset="0.55" stop-color="#00fcff"/><stop offset="0.58" stop-color="#00beff"/><stop offset="0.595" stop-color="#00abff"/><stop offset="0.735" stop-color="#0024ff"/><stop offset="0.745" stop-color="#001eff"/><stop offset="0.765" stop-color="#001fff"/><stop offset="0.8" stop-color="#0902ff"/><stop offset="0.845" stop-color="#3d00ff"/><stop offset="0.905" stop-color="#9800ff"/><stop offset="0.97" stop-color="#e900ff"/><stop offset="0.985" stop-color="#f800ff"/><stop offset="1" stop-color="#fd00ff"/></linearGradient><linearGradient id="g76" x1="0" y1="0" x2="0" y2="1"><stop offset="0" stop-color="#ff4f00"/><stop offset="0.07" stop-color="#ff5500"/><stop offset="0.145" stop-color="#ff6800"/><stop offset="0.165" stop-color="#ff7e00"/><stop offset="0.23" stop-color="#ffdb00"/><stop offset="0.26" stop-color="#feff00"/><stop offset="0.28" stop-color="#c3ff00"/><stop offset="0.335" stop-color="#55ff00"/><stop offset="0.365" stop-color="#26ff00"/><stop offset="0.4" stop-color="#00ff03"/><stop offset="0.44" stop-color="#00ff32"/><stop offset="0.53" stop-color="#00ffb4"/><stop offset="0.545" stop-color="#00ffcf"/><stop offset="0.56" stop-color="#00fff7"/><stop offset="0.565" stop-color="#00f9ff"/><stop offset="0.58" stop-color="#00d6ff"/><stop offset="0.59" stop-color="#00c7ff"/><stop offset="0.73" stop-color="#0030ff"/><stop offset="0.745" stop-color="#0025ff"/><stop offset="0.765" stop-color="#0028ff"/><stop offset="0.805" stop-color="#0902ff"/><stop offset="0.855" stop-color="#4200ff"/><stop offset="0.91" stop-color="#9a00ff"/><stop offset="0.98" stop-color="#ed00ff"/><stop offset="1" stop-color="#f800ff"/></linearGradient><linearGradient id="g77" x1="0" y1="0" x2="0" y2="1"><stop offset="0" stop-color="#ff4700"/><stop offset="0.075" stop-color="#ff4e00"/><stop offset="0.17" stop-color="#ff6800"/><stop offset="0.235" stop-color="#ffb300"/><stop offset="0.28" stop-color="#fffb00"/><stop offset="0.285" stop-color="#f8ff00"/><stop offset="0.3" stop-color="#caff00"/><stop offset="0.365" stop-color="#46ff00"/><stop offset="0.395" stop-color="#17ff00"/><stop offset="0.42" stop-color="#00ff02"/><stop offset="0.455" stop-color="#00ff22"/><stop offset="0.525" stop-color="#00ff79"/><stop offset="0.545" stop-color="#00ffa2"/><stop offset="0.57" stop-color="#00fff6"/><stop offset="0.575" stop-color="#00f9ff"/><stop offset="0.595" stop-color="#00d4ff"/><stop offset="0.68" stop-color="#0079ff"/><stop offset="0.725" stop-color="#0041ff"/><stop offset="0.735" stop-color="#0033ff"/><stop offset="0.75" stop-color="#0112ff"/><stop offset="0.765" stop-color="#0a01ff"/><stop offset="0.81" stop-color="#4000ff"/><stop offset="0.87" stop-color="#9400ff"/><stop offset="0.9" stop-color="#b500ff"/><stop offset="0.92" stop-color="#c300ff"/><stop offset="0.95" stop-color="#c400ff"/><stop offset="0.995" stop-color="#f000ff"/><stop offset="1" stop-color="#f000ff"/></linearGradient><linearGradient id="g78" x1="0" y1="0" x2="0" y2="1"><stop offset="0" stop-color="#ff4000"/><stop offset="0.105" stop-color="#ff4b00"/><stop offset="0.2" stop-color="#ff6b00"/><stop offset="0.245" stop-color="#ff9a00"/><stop offset="0.3" stop-color="#ffff00"/><stop offset="0.32" stop-color="#c2ff00"/><stop offset="0.385" stop-color="#43ff00"/><stop offset="0.41" stop-color="#1fff00"/><stop offset="0.445" stop-color="#00ff02"/><stop offset="0.505" stop-color="#00ff33"/><stop offset="0.54" stop-color="#00ff66"/><stop offset="0.55" stop-color="#00ff80"/><stop offset="0.58" stop-color="#00fff6"/><stop offset="0.585" stop-color="#00fbff"/><stop offset="0.595" stop-color="#00ebff"/><stop offset="0.645" stop-color="#00b4ff"/><stop offset="0.73" stop-color="#004bff"/><stop offset="0.745" stop-color="#0031ff"/><stop offset="0.755" stop-color="#0013ff"/><stop offset="0.77" stop-color="#0903ff"/><stop offset="0.8" stop-color="#2a00ff"/><stop offset="0.88" stop-color="#9700ff"/><stop offset="0.9" stop-color="#ac00ff"/><stop offset="0.92" stop-color="#ba00ff"/><stop offset="0.95" stop-color="#bb00ff"/><stop offset="0.995" stop-color="#e600ff"/><stop offset="1" stop-color="#e600ff"/></linearGradient><linearGradient id="g79" x1="0" y1="0" x2="0" y2="1"><stop offset="0" stop-color="#ff3900"/><stop offset="0.115" stop-color="#ff4600"/><stop offset="0.225" stop-color="#ff6900"/><stop offset="0.255" stop-color="#ff8f00"/><stop offset="0.29" stop-color="#ffd800"/><stop offset="0.31" stop-color="#fffc00"/><stop offset="0.315" stop-color="#f7ff00"/><stop offset="0.33" stop-color="#c9ff00"/><stop offset="0.395" stop-color="#4cff00"/><stop offset="0.42" stop-color="#29ff00"/><stop offset="0.465" stop-color="#00ff00"/><stop offset="0.505" stop-color="#00ff11"/><stop offset="0.54" stop-color="#00ff40"/><stop offset="0.555" stop-color="#00ff69"/><stop offset="0.58" stop-color="#00ffdc"/><stop offset="0.59" stop-color="#00fff7"/><stop offset="0.595" stop-color="#00fdff"/><stop offset="0.7" stop-color="#0084ff"/><stop offset="0.74" stop-color="#0049ff"/><stop offset="0.76" stop-color="#0014ff"/><stop offset="0.78" stop-color="#0a01ff"/><stop offset="0.9" stop-color="#a200ff"/><stop offset="0.92" stop-color="#b000ff"/><stop offset="0.95" stop-color="#b200ff"/><stop offset="0.985" stop-color="#d200ff"/><stop offset="1" stop-color="#da00ff"/></linearGradient><linearGradient id="g80" x1="0" y1="0" x2="0" y2="1"><stop offset="0" stop-color="#ff3100"/><stop offset="0.115" stop-color="#ff3f00"/><stop offset="0.24" stop-color="#ff6a00"/><stop offset="0.265" stop-color="#ff9200"/><stop offset="0.3" stop-color="#ffdd00"/><stop offset="0.32" stop-color="#fffd00"/><stop offset="0.325" stop-color="#f6ff00"/><stop offset="0.34" stop-color="#c8ff00"/><stop offset="0.385" stop-color="#75ff00"/><stop offset="0.42" stop-color="#3eff00"/><stop offset="0.46" stop-color="#14ff00"/><stop offset="0.495" stop-color="#0cff00"/><stop offset="0.51" stop-color="#03ff00"/><stop offset="0.535" stop-color="#00ff1a"/><stop offset="0.55" stop-color="#00ff38"/><stop offset="0.565" stop-color="#00ff6f"/><stop offset="0.58" stop-color="#00ffb9"/><stop offset="0.585" stop-color="#00ffcb"/><stop offset="0.595" stop-color="#00ffe5"/><stop offset="0.61" stop-color="#00fffc"/><stop offset="0.66" stop-color="#00cbff"/><stop offset="0.73" stop-color="#006fff"/><stop offset="0.745" stop-color="#0055ff"/><stop offset="0.77" stop-color="#0111ff"/><stop offset="0.79" stop-color="#0b00ff"/><stop offset="0.845" stop-color="#4f00ff"/><stop offset="0.895" stop-color="#9600ff"/><stop offset="0.92" stop-color="#a700ff"/><stop offset="0.95" stop-color="#aa00ff"/><stop offset="0.985" stop-color="#cc00ff"/><stop offset="1" stop-color="#d300ff"/></linearGradient><linearGradient id="g81" x1="0" y1="0" x2="0" y2="1"><stop offset="0" stop-color="#ff2800"/><stop offset="0.06" stop-color="#ff2c00"/><stop offset="0.115" stop-color="#ff3900"/><stop offset="0.24" stop-color="#ff6700"/><stop offset="0.265" stop-color="#ff8c00"/><stop offset="0.31" stop-color="#ffe600"/><stop offset="0.325" stop-color="#fffb00"/><stop offset="0.33" stop-color="#faff00"/><stop offset="0.35" stop-color="#c3ff00"/><stop offset="0.405" stop-color="#69ff00"/><stop offset="0.44" stop-color="#37ff00"/><stop offset="0.465" stop-color="#1fff00"/><stop offset="0.505" stop-color="#16ff00"/><stop offset="0.53" stop-color="#03ff00"/><stop offset="0.54" stop-color="#00ff09"/><stop offset="0.55" stop-color="#00ff1d"/><stop offset="0.56" stop-color="#00ff3c"/><stop offset="0.585" stop-color="#00ff99"/><stop offset="0.595" stop-color="#00ffb6"/><stop offset="0.615" stop-color="#00ffde"/><stop offset="0.635" stop-color="#00fffd"/><stop offset="0.73" stop-color="#0085ff"/><stop offset="0.745" stop-color="#0069ff"/><stop offset="0.775" stop-color="#0013ff"/><stop offset="0.795" stop-color="#0803ff"/><stop offset="0.83" stop-color="#3000ff"/><stop offset="0.905" stop-color="#9300ff"/><stop offset="0.92" stop-color="#9d00ff"/><stop offset="0.95" stop-color="#a300ff"/><stop offset="0.985" stop-color="#c700ff"/><stop offset="1" stop-color="#ce00ff"/></linearGradient><linearGradient id="g82" x1="0" y1="0" x2="0" y2="1"><stop offset="0" stop-color="#ff2000"/><stop offset="0.08" stop-color="#ff2600"/><stop offset="0.18" stop-color="#ff4a00"/><stop offset="0.24" stop-color="#ff6700"/><stop offset="0.27" stop-color="#ff9400"/><stop offset="0.31" stop-color="#ffe300"/><stop offset="0.33" stop-color="#fffe00"/><stop offset="0.355" stop-color="#c4ff00"/><stop offset="0.45" stop-color="#3aff00"/><stop offset="0.47" stop-color="#27ff00"/><stop offset="0.505" stop-color="#23ff00"/><stop offset="0.545" stop-color="#00ff01"/><stop offset="0.56" stop-color="#00ff23"/><stop offset="0.595" stop-color="#00ff82"/><stop offset="0.655" stop-color="#00fffe"/><stop offset="0.7" stop-color="#00cbff"/><stop offset="0.735" stop-color="#009aff"/><stop offset="0.745" stop-color="#0086ff"/><stop offset="0.765" stop-color="#0046ff"/><stop offset="0.78" stop-color="#0021ff"/><stop offset="0.79" stop-color="#0112ff"/><stop offset="0.81" stop-color="#0902ff"/><stop offset="0.91" stop-color="#8800ff"/><stop offset="0.95" stop-color="#9c00ff"/><stop offset="0.985" stop-color="#c000ff"/><stop offset="1" stop-color="#c800ff"/></linearGradient><linearGradient id="g83" x1="0" y1="0" x2="0" y2="1"><stop offset="0" stop-color="#ff1a00"/><stop offset="0.06" stop-color="#ff1b00"/><stop offset="0.095" stop-color="#ff2400"/><stop offset="0.165" stop-color="#ff4100"/><stop offset="0.24" stop-color="#ff6900"/><stop offset="0.265" stop-color="#ff9000"/><stop offset="0.3" stop-color="#ffda00"/><stop offset="0.33" stop-color="#fffd00"/><stop offset="0.36" stop-color="#c1ff00"/><stop offset="0.43" stop-color="#61ff00"/><stop offset="0.485" stop-color="#2fff00"/><stop offset="0.55" stop-color="#03ff00"/><stop offset="0.56" stop-color="#00ff0c"/><stop offset="0.61" stop-color="#00ff6b"/><stop offset="0.655" stop-color="#00ffd2"/><stop offset="0.68" stop-color="#00fffe"/><stop offset="0.735" stop-color="#00b8ff"/><stop offset="0.745" stop-color="#00a6ff"/><stop offset="0.765" stop-color="#006cff"/><stop offset="0.775" stop-color="#0056ff"/><stop offset="0.81" stop-color="#0112ff"/><stop offset="0.825" stop-color="#0903ff"/><stop offset="0.91" stop-color="#7900ff"/><stop offset="0.955" stop-color="#9b00ff"/><stop offset="0.985" stop-color="#ba00ff"/><stop offset="1" stop-color="#c200ff"/></linearGradient><linearGradient id="g84" x1="0" y1="0" x2="0" y2="1"><stop offset="0" stop-color="#ff1500"/><stop offset="0.06" stop-color="#ff1600"/><stop offset="0.1" stop-color="#ff2100"/><stop offset="0.16" stop-color="#ff3c00"/><stop offset="0.24" stop-color="#ff6900"/><stop offset="0.265" stop-color="#ff9000"/><stop offset="0.3" stop-color="#ffd600"/><stop offset="0.335" stop-color="#ffff00"/><stop offset="0.36" stop-color="#c6ff00"/><stop offset="0.425" stop-color="#72ff00"/><stop offset="0.505" stop-color="#34ff00"/><stop offset="0.555" stop-color="#03ff00"/><stop offset="0.585" stop-color="#00ff20"/><stop offset="0.63" stop-color="#00ff66"/><stop offset="0.695" stop-color="#00fff9"/><stop offset="0.7" stop-color="#00fdff"/><stop offset="0.74" stop-color="#00c9ff"/><stop offset="0.775" stop-color="#0076ff"/><stop offset="0.81" stop-color="#0039ff"/><stop offset="0.825" stop-color="#0018ff"/><stop offset="0.845" stop-color="#0a01ff"/><stop offset="0.905" stop-color="#6400ff"/><stop offset="0.985" stop-color="#b500ff"/><stop offset="1" stop-color="#bc00ff"/></linearGradient><linearGradient id="g85" x1="0" y1="0" x2="0" y2="1"><stop offset="0" stop-color="#ff1400"/><stop offset="0.06" stop-color="#ff1700"/><stop offset="0.105" stop-color="#ff2400"/><stop offset="0.16" stop-color="#ff3b00"/><stop offset="0.24" stop-color="#ff6b00"/><stop offset="0.265" stop-color="#ff9000"/><stop offset="0.3" stop-color="#ffd300"/><stop offset="0.335" stop-color="#fffd00"/><stop offset="0.365" stop-color="#c4ff00"/><stop offset="0.44" stop-color="#67ff00"/><stop offset="0.485" stop-color="#39ff00"/><stop offset="0.52" stop-color="#23ff00"/><stop offset="0.56" stop-color="#00ff01"/><stop offset="0.605" stop-color="#00ff31"/><stop offset="0.645" stop-color="#00ff6e"/><stop offset="0.69" stop-color="#00ffda"/><stop offset="0.71" stop-color="#00fffd"/><stop offset="0.745" stop-color="#00d2ff"/><stop offset="0.775" stop-color="#0090ff"/><stop offset="0.82" stop-color="#003fff"/><stop offset="0.835" stop-color="#0018ff"/><stop offset="0.855" stop-color="#0b00ff"/><stop offset="0.91" stop-color="#5f00ff"/><stop offset="0.985" stop-color="#b100ff"/><stop offset="1" stop-color="#b800ff"/></linearGradient><linearGradient id="g86" x1="0" y1="0" x2="0" y2="1"><stop offset="0" stop-color="#ff1600"/><stop offset="0.06" stop-color="#ff1b00"/><stop offset="0.105" stop-color="#ff2800"/><stop offset="0.16" stop-color="#ff3d00"/><stop offset="0.23" stop-color="#ff6900"/><stop offset="0.265" stop-color="#ff9700"/><stop offset="0.31" stop-color="#ffe600"/><stop offset="0.335" stop-color="#ffff00"/><stop offset="0.36" stop-color="#c8ff00"/><stop offset="0.44" stop-color="#64ff00"/><stop offset="0.485" stop-color="#36ff00"/><stop offset="0.52" stop-color="#27ff00"/><stop offset="0.56" stop-color="#03ff00"/><stop offset="0.615" stop-color="#00ff3a"/><stop offset="0.645" stop-color="#00ff68"/><stop offset="0.69" stop-color="#00ffd0"/><stop offset="0.715" stop-color="#00fffd"/><stop offset="0.745" stop-color="#00d2ff"/><stop offset="0.81" stop-color="#005dff"/><stop offset="0.845" stop-color="#0111ff"/><stop offset="0.86" stop-color="#0a01ff"/><stop offset="0.915" stop-color="#5b00ff"/><stop offset="0.98" stop-color="#a900ff"/><stop offset="1" stop-color="#b600ff"/></linearGradient><linearGradient id="g87" x1="0" y1="0" x2="0" y2="1"><stop offset="0" stop-color="#ff2000"/><stop offset="0.06" stop-color="#ff2400"/><stop offset="0.125" stop-color="#ff3600"/><stop offset="0.165" stop-color="#ff4700"/><stop offset="0.215" stop-color="#ff6700"/><stop offset="0.255" stop-color="#ff9300"/><stop offset="0.3" stop-color="#ffdf00"/><stop offset="0.33" stop-color="#ffff00"/><stop offset="0.355" stop-color="#c9ff00"/><stop offset="0.44" stop-color="#5dff00"/><stop offset="0.485" stop-color="#2fff00"/><stop offset="0.52" stop-color="#22ff00"/><stop offset="0.555" stop-color="#03ff00"/><stop offset="0.6" stop-color="#00ff30"/><stop offset="0.645" stop-color="#00ff6e"/><stop offset="0.705" stop-color="#00fff6"/><stop offset="0.71" stop-color="#00feff"/><stop offset="0.795" stop-color="#0074ff"/><stop offset="0.82" stop-color="#0045ff"/><stop offset="0.84" stop-color="#0016ff"/><stop offset="0.86" stop-color="#0a00ff"/><stop offset="0.915" stop-color="#5c00ff"/><stop offset="0.98" stop-color="#a700ff"/><stop offset="1" stop-color="#b300ff"/></linearGradient><linearGradient id="g88" x1="0" y1="0" x2="0" y2="1"><stop offset="0" stop-color="#ff2b00"/><stop offset="0.11" stop-color="#ff3b00"/><stop offset="0.16" stop-color="#ff4e00"/><stop offset="0.205" stop-color="#ff6700"/><stop offset="0.255" stop-color="#ffa700"/><stop offset="0.3" stop-color="#ffed00"/><stop offset="0.315" stop-color="#fffe00"/><stop offset="0.34" stop-color="#c9ff00"/><stop offset="0.44" stop-color="#4cff00"/><stop offset="0.485" stop-color="#1fff00"/><stop offset="0.515" stop-color="#1bff00"/><stop offset="0.545" stop-color="#00ff00"/><stop offset="0.595" stop-color="#00ff3b"/><stop offset="0.63" stop-color="#00ff6c"/><stop offset="0.655" stop-color="#00ff9d"/><stop offset="0.695" stop-color="#00fff8"/><stop offset="0.7" stop-color="#00fcff"/><stop offset="0.8" stop-color="#0058ff"/><stop offset="0.835" stop-color="#0015ff"/><stop offset="0.855" stop-color="#0901ff"/><stop offset="0.915" stop-color="#6000ff"/><stop offset="0.98" stop-color="#a500ff"/><stop offset="1" stop-color="#b000ff"/></linearGradient><linearGradient id="g89" x1="0" y1="0" x2="0" y2="1"><stop offset="0" stop-color="#ff3a00"/><stop offset="0.1" stop-color="#ff4700"/><stop offset="0.19" stop-color="#ff6900"/><stop offset="0.255" stop-color="#ffc700"/><stop offset="0.3" stop-color="#ffff00"/><stop offset="0.325" stop-color="#c3ff00"/><stop offset="0.44" stop-color="#37ff00"/><stop offset="0.485" stop-color="#0dff00"/><stop offset="0.515" stop-color="#0cff00"/><stop offset="0.53" stop-color="#00ff00"/><stop offset="0.615" stop-color="#00ff72"/><stop offset="0.68" stop-color="#00fff9"/><stop offset="0.685" stop-color="#00faff"/><stop offset="0.825" stop-color="#0013ff"/><stop offset="0.85" stop-color="#0b00ff"/><stop offset="0.915" stop-color="#6500ff"/><stop offset="0.985" stop-color="#a900ff"/><stop offset="1" stop-color="#af00ff"/></linearGradient><linearGradient id="g90" x1="0" y1="0" x2="0" y2="1"><stop offset="0" stop-color="#ff3e00"/><stop offset="0.05" stop-color="#ff4f00"/><stop offset="0.115" stop-color="#ff5500"/><stop offset="0.155" stop-color="#ff6800"/><stop offset="0.225" stop-color="#ffb300"/><stop offset="0.27" stop-color="#fffe00"/><stop offset="0.3" stop-color="#cbff00"/><stop offset="0.355" stop-color="#94ff00"/><stop offset="0.375" stop-color="#8cff00"/><stop offset="0.42" stop-color="#47ff00"/><stop offset="0.45" stop-color="#2fff00"/><stop offset="0.49" stop-color="#27ff00"/><stop offset="0.515" stop-color="#00ff02"/><stop offset="0.59" stop-color="#00ff70"/><stop offset="0.66" stop-color="#00fffe"/><stop offset="0.7" stop-color="#00c1ff"/><stop offset="0.79" stop-color="#0046ff"/><stop offset="0.82" stop-color="#0014ff"/><stop offset="0.85" stop-color="#0b00ff"/><stop offset="0.93" stop-color="#7100ff"/><stop offset="0.955" stop-color="#9600ff"/><stop offset="0.985" stop-color="#b600ff"/><stop offset="1" stop-color="#bc00ff"/></linearGradient><linearGradient id="g91" x1="0" y1="0" x2="0" y2="1"><stop offset="0" stop-color="#ff6200"/><stop offset="0.06" stop-color="#ff6900"/><stop offset="0.105" stop-color="#ff7900"/><stop offset="0.245" stop-color="#ffff00"/><stop offset="0.265" stop-color="#c9ff00"/><stop offset="0.275" stop-color="#bcff00"/><stop offset="0.475" stop-color="#20ff00"/><stop offset="0.495" stop-color="#06ff00"/><stop offset="0.5" stop-color="#00ff07"/><stop offset="0.52" stop-color="#00ff39"/><stop offset="0.555" stop-color="#00ff6e"/><stop offset="0.625" stop-color="#00fffc"/><stop offset="0.63" stop-color="#00faff"/><stop offset="0.68" stop-color="#00b4ff"/><stop offset="0.805" stop-color="#0017ff"/><stop offset="0.84" stop-color="#0a00ff"/><stop offset="0.875" stop-color="#3200ff"/><stop offset="0.94" stop-color="#9800ff"/><stop offset="0.985" stop-color="#cc00ff"/><stop offset="1" stop-color="#d400ff"/></linearGradient><linearGradient id="g92" x1="0" y1="0" x2="0" y2="1"><stop offset="0" stop-color="#ffa400"/><stop offset="0.105" stop-color="#ffbe00"/><stop offset="0.2" stop-color="#ffff00"/><stop offset="0.255" stop-color="#a0ff00"/><stop offset="0.275" stop-color="#85ff00"/><stop offset="0.48" stop-color="#00ff03"/><stop offset="0.495" stop-color="#00ff20"/><stop offset="0.515" stop-color="#00ff5f"/><stop offset="0.53" stop-color="#00ff82"/><stop offset="0.595" stop-color="#00ffff"/><stop offset="0.635" stop-color="#00c5ff"/><stop offset="0.78" stop-color="#0018ff"/><stop offset="0.825" stop-color="#0b00ff"/><stop offset="0.875" stop-color="#4100ff"/><stop offset="0.93" stop-color="#9800ff"/><stop offset="0.955" stop-color="#b900ff"/><stop offset="0.985" stop-color="#db00ff"/><stop offset="1" stop-color="#e300ff"/></linearGradient><linearGradient id="g93" x1="0" y1="0" x2="0" y2="1"><stop offset="0" stop-color="#fff400"/><stop offset="0.105" stop-color="#ffff00"/><stop offset="0.16" stop-color="#c6ff00"/><stop offset="0.225" stop-color="#94ff00"/><stop offset="0.235" stop-color="#88ff00"/><stop offset="0.265" stop-color="#55ff00"/><stop offset="0.275" stop-color="#4cff00"/><stop offset="0.43" stop-color="#00ff00"/><stop offset="0.47" stop-color="#00ff19"/><stop offset="0.485" stop-color="#00ff29"/><stop offset="0.495" stop-color="#00ff41"/><stop offset="0.515" stop-color="#00ff93"/><stop offset="0.525" stop-color="#00ffb0"/><stop offset="0.57" stop-color="#00fdff"/><stop offset="0.625" stop-color="#00b1ff"/><stop offset="0.735" stop-color="#003fff"/><stop offset="0.77" stop-color="#0015ff"/><stop offset="0.815" stop-color="#0c00ff"/><stop offset="0.84" stop-color="#2000ff"/><stop offset="0.865" stop-color="#3e00ff"/><stop offset="0.925" stop-color="#9a00ff"/><stop offset="0.96" stop-color="#c800ff"/><stop offset="0.985" stop-color="#e400ff"/><stop offset="1" stop-color="#eb00ff"/></linearGradient><linearGradient id="g94" x1="0" y1="0" x2="0" y2="1"><stop offset="0" stop-color="#89ff00"/><stop offset="0.11" stop-color="#7dff00"/><stop offset="0.225" stop-color="#43ff00"/><stop offset="0.275" stop-color="#14ff00"/><stop offset="0.375" stop-color="#00ff02"/><stop offset="0.47" stop-color="#00ff3f"/><stop offset="0.485" stop-color="#00ff4f"/><stop offset="0.495" stop-color="#00ff68"/><stop offset="0.515" stop-color="#00ffc7"/><stop offset="0.525" stop-color="#00ffe3"/><stop offset="0.54" stop-color="#00fffc"/><stop offset="0.625" stop-color="#009cff"/><stop offset="0.735" stop-color="#0036ff"/><stop offset="0.765" stop-color="#0014ff"/><stop offset="0.81" stop-color="#0c00ff"/><stop offset="0.84" stop-color="#2600ff"/><stop offset="0.875" stop-color="#5300ff"/><stop offset="0.95" stop-color="#c400ff"/><stop offset="0.985" stop-color="#ea00ff"/><stop offset="1" stop-color="#f000ff"/></linearGradient><linearGradient id="g95" x1="0" y1="0" x2="0" y2="1"><stop offset="0" stop-color="#06ff00"/><stop offset="0.135" stop-color="#00ff00"/><stop offset="0.235" stop-color="#00ff12"/><stop offset="0.275" stop-color="#00ff24"/><stop offset="0.365" stop-color="#00ff2d"/><stop offset="0.39" stop-color="#00ff35"/><stop offset="0.48" stop-color="#00ff70"/><stop offset="0.485" stop-color="#00ff78"/><stop offset="0.495" stop-color="#00ff96"/><stop offset="0.515" stop-color="#00ffef"/><stop offset="0.52" stop-color="#00fffd"/><stop offset="0.625" stop-color="#008dff"/><stop offset="0.735" stop-color="#0032ff"/><stop offset="0.765" stop-color="#0013ff"/><stop offset="0.79" stop-color="#0608ff"/><stop offset="0.81" stop-color="#0d00ff"/><stop offset="0.84" stop-color="#2800ff"/><stop offset="0.95" stop-color="#c600ff"/><stop offset="0.985" stop-color="#eb00ff"/><stop offset="1" stop-color="#f200ff"/></linearGradient><linearGradient id="g96" x1="0" y1="0" x2="0" y2="1"><stop offset="0" stop-color="#00ffb4"/><stop offset="0.265" stop-color="#00ff84"/><stop offset="0.375" stop-color="#00ff7e"/><stop offset="0.48" stop-color="#00ffad"/><stop offset="0.495" stop-color="#00ffca"/><stop offset="0.505" stop-color="#00fff0"/><stop offset="0.51" stop-color="#00fdff"/><stop offset="0.52" stop-color="#00e6ff"/><stop offset="0.53" stop-color="#00d6ff"/><stop offset="0.59" stop-color="#009bff"/><stop offset="0.745" stop-color="#0027ff"/><stop offset="0.765" stop-color="#0014ff"/><stop offset="0.79" stop-color="#0608ff"/><stop offset="0.81" stop-color="#0d00ff"/><stop offset="0.84" stop-color="#2900ff"/><stop offset="0.95" stop-color="#c600ff"/><stop offset="0.985" stop-color="#eb00ff"/><stop offset="1" stop-color="#f200ff"/></linearGradient><linearGradient id="g97" x1="0" y1="0" x2="0" y2="1"><stop offset="0" stop-color="#00ecff"/><stop offset="0.12" stop-color="#00ffff"/><stop offset="0.375" stop-color="#00ffd6"/><stop offset="0.47" stop-color="#00ffea"/><stop offset="0.49" stop-color="#00fffa"/><stop offset="0.495" stop-color="#00fcff"/><stop offset="0.515" stop-color="#00d3ff"/><stop offset="0.525" stop-color="#00c4ff"/><stop offset="0.56" stop-color="#00a2ff"/><stop offset="0.76" stop-color="#0014ff"/><stop offset="0.79" stop-color="#0706ff"/><stop offset="0.805" stop-color="#0c00ff"/><stop offset="0.84" stop-color="#2a00ff"/><stop offset="0.95" stop-color="#c600ff"/><stop offset="0.985" stop-color="#eb00ff"/><stop offset="1" stop-color="#f200ff"/></linearGradient><linearGradient id="g98" x1="0" y1="0" x2="0" y2="1"><stop offset="0" stop-color="#00b0ff"/><stop offset="0.125" stop-color="#00ceff"/><stop offset="0.355" stop-color="#00f1ff"/><stop offset="0.47" stop-color="#00e4ff"/><stop offset="0.495" stop-color="#00d6ff"/><stop offset="0.525" stop-color="#00adff"/><stop offset="0.57" stop-color="#0087ff"/><stop offset="0.75" stop-color="#0014ff"/><stop offset="0.795" stop-color="#0902ff"/><stop offset="0.84" stop-color="#2c00ff"/><stop offset="0.95" stop-color="#c500ff"/><stop offset="0.985" stop-color="#ea00ff"/><stop offset="1" stop-color="#f100ff"/></linearGradient><linearGradient id="g99" x1="0" y1="0" x2="0" y2="1"><stop offset="0" stop-color="#0086ff"/><stop offset="0.255" stop-color="#00c3ff"/><stop offset="0.385" stop-color="#00c8ff"/><stop offset="0.495" stop-color="#00afff"/><stop offset="0.57" stop-color="#0077ff"/><stop offset="0.68" stop-color="#0035ff"/><stop offset="0.725" stop-color="#0015ff"/><stop offset="0.79" stop-color="#0902ff"/><stop offset="0.84" stop-color="#2f00ff"/><stop offset="0.95" stop-color="#c300ff"/><stop offset="0.985" stop-color="#e800ff"/><stop offset="1" stop-color="#ef00ff"/></linearGradient><linearGradient id="g100" x1="0" y1="0" x2="0" y2="1"><stop offset="0" stop-color="#00a2ff"/><stop offset="0.105" stop-color="#00b8ff"/><stop offset="0.235" stop-color="#00c5ff"/><stop offset="0.365" stop-color="#00b8ff"/><stop offset="0.47" stop-color="#00a4ff"/><stop offset="0.515" stop-color="#0096ff"/><stop offset="0.57" stop-color="#0070ff"/><stop offset="0.68" stop-color="#0033ff"/><stop offset="0.72" stop-color="#0016ff"/><stop offset="0.795" stop-color="#0a00ff"/><stop offset="0.84" stop-color="#2e00ff"/><stop offset="0.95" stop-color="#be00ff"/><stop offset="0.985" stop-color="#e300ff"/><stop offset="1" stop-color="#ea00ff"/></linearGradient><linearGradient id="g101" x1="0" y1="0" x2="0" y2="1"><stop offset="0" stop-color="#00ffd9"/><stop offset="0.18" stop-color="#00ffe8"/><stop offset="0.24" stop-color="#00fffd"/><stop offset="0.3" stop-color="#00e9ff"/><stop offset="0.48" stop-color="#00c3ff"/><stop offset="0.585" stop-color="#0076ff"/><stop offset="0.73" stop-color="#0025ff"/><stop offset="0.785" stop-color="#040cff"/><stop offset="0.81" stop-color="#0b00ff"/><stop offset="0.835" stop-color="#2000ff"/><stop offset="0.875" stop-color="#5200ff"/><stop offset="0.925" stop-color="#9900ff"/><stop offset="0.98" stop-color="#d600ff"/><stop offset="1" stop-color="#e100ff"/></linearGradient><linearGradient id="g102" x1="0" y1="0" x2="0" y2="1"><stop offset="0" stop-color="#00ff1d"/><stop offset="0.115" stop-color="#00ff2b"/><stop offset="0.225" stop-color="#00ff6c"/><stop offset="0.275" stop-color="#00ff9a"/><stop offset="0.375" stop-color="#00ffe0"/><stop offset="0.475" stop-color="#00feff"/><stop offset="0.495" stop-color="#00f2ff"/><stop offset="0.52" stop-color="#00d5ff"/><stop offset="0.55" stop-color="#00bdff"/><stop offset="0.725" stop-color="#004dff"/><stop offset="0.755" stop-color="#003fff"/><stop offset="0.8" stop-color="#0112ff"/><stop offset="0.835" stop-color="#1000ff"/><stop offset="0.875" stop-color="#4200ff"/><stop offset="0.935" stop-color="#9a00ff"/><stop offset="0.985" stop-color="#cd00ff"/><stop offset="1" stop-color="#d400ff"/></linearGradient><linearGradient id="g103" x1="0" y1="0" x2="0" y2="1"><stop offset="0" stop-color="#57ff00"/><stop offset="0.115" stop-color="#42ff00"/><stop offset="0.245" stop-color="#00ff00"/><stop offset="0.35" stop-color="#00ff4d"/><stop offset="0.48" stop-color="#00ff96"/><stop offset="0.495" stop-color="#00ffae"/><stop offset="0.515" stop-color="#00ffeb"/><stop offset="0.525" stop-color="#00fffd"/><stop offset="0.765" stop-color="#0067ff"/><stop offset="0.8" stop-color="#0043ff"/><stop offset="0.825" stop-color="#0017ff"/><stop offset="0.85" stop-color="#0a01ff"/><stop offset="0.945" stop-color="#9400ff"/><stop offset="0.985" stop-color="#bd00ff"/><stop offset="1" stop-color="#c300ff"/></linearGradient><linearGradient id="g104" x1="0" y1="0" x2="0" y2="1"><stop offset="0" stop-color="#b6ff00"/><stop offset="0.1" stop-color="#a6ff00"/><stop offset="0.155" stop-color="#8fff00"/><stop offset="0.235" stop-color="#64ff00"/><stop offset="0.3" stop-color="#2cff00"/><stop offset="0.36" stop-color="#00ff01"/><stop offset="0.48" stop-color="#00ff3c"/><stop offset="0.495" stop-color="#00ff54"/><stop offset="0.515" stop-color="#00ff97"/><stop offset="0.525" stop-color="#00ffac"/><stop offset="0.56" stop-color="#00ffd0"/><stop offset="0.615" stop-color="#00feff"/><stop offset="0.705" stop-color="#00ccff"/><stop offset="0.79" stop-color="#0084ff"/><stop offset="0.83" stop-color="#004eff"/><stop offset="0.855" stop-color="#0112ff"/><stop offset="0.875" stop-color="#1000ff"/><stop offset="0.965" stop-color="#9800ff"/><stop offset="0.985" stop-color="#ac00ff"/><stop offset="1" stop-color="#b300ff"/></linearGradient><linearGradient id="g105" x1="0" y1="0" x2="0" y2="1"><stop offset="0" stop-color="#fffc00"/><stop offset="0.1" stop-color="#ffff00"/><stop offset="0.125" stop-color="#f6ff00"/><stop offset="0.235" stop-color="#bcff00"/><stop offset="0.375" stop-color="#34ff00"/><stop offset="0.47" stop-color="#11ff00"/><stop offset="0.49" stop-color="#00ff01"/><stop offset="0.515" stop-color="#00ff43"/><stop offset="0.525" stop-color="#00ff53"/><stop offset="0.71" stop-color="#00feff"/><stop offset="0.745" stop-color="#00e3ff"/><stop offset="0.795" stop-color="#00b0ff"/><stop offset="0.82" stop-color="#0090ff"/><stop offset="0.845" stop-color="#0066ff"/><stop offset="0.865" stop-color="#0038ff"/><stop offset="0.875" stop-color="#0019ff"/><stop offset="0.89" stop-color="#0803ff"/><stop offset="0.975" stop-color="#9100ff"/><stop offset="1" stop-color="#a300ff"/></linearGradient><linearGradient id="g106" x1="0" y1="0" x2="0" y2="1"><stop offset="0" stop-color="#ffd400"/><stop offset="0.115" stop-color="#ffdd00"/><stop offset="0.255" stop-color="#ffff00"/><stop offset="0.295" stop-color="#c8ff00"/><stop offset="0.375" stop-color="#7dff00"/><stop offset="0.485" stop-color="#47ff00"/><stop offset="0.495" stop-color="#37ff00"/><stop offset="0.515" stop-color="#05ff00"/><stop offset="0.52" stop-color="#00ff03"/><stop offset="0.53" stop-color="#00ff10"/><stop offset="0.65" stop-color="#00ff6e"/><stop offset="0.73" stop-color="#00ffc7"/><stop offset="0.765" stop-color="#00fffe"/><stop offset="0.8" stop-color="#00dcff"/><stop offset="0.845" stop-color="#009aff"/><stop offset="0.865" stop-color="#0071ff"/><stop offset="0.875" stop-color="#0055ff"/><stop offset="0.89" stop-color="#001cff"/><stop offset="0.905" stop-color="#0901ff"/><stop offset="0.97" stop-color="#7b00ff"/><stop offset="0.99" stop-color="#9600ff"/><stop offset="1" stop-color="#9a00ff"/></linearGradient><linearGradient id="g107" x1="0" y1="0" x2="0" y2="1"><stop offset="0" stop-color="#ffad00"/><stop offset="0.11" stop-color="#ffb700"/><stop offset="0.23" stop-color="#ffce00"/><stop offset="0.345" stop-color="#fffe00"/><stop offset="0.4" stop-color="#c8ff00"/><stop offset="0.48" stop-color="#9aff00"/><stop offset="0.495" stop-color="#80ff00"/><stop offset="0.515" stop-color="#44ff00"/><stop offset="0.525" stop-color="#33ff00"/><stop offset="0.55" stop-color="#1bff00"/><stop offset="0.59" stop-color="#00ff00"/><stop offset="0.725" stop-color="#00ff6d"/><stop offset="0.745" stop-color="#00ff88"/><stop offset="0.79" stop-color="#00ffdf"/><stop offset="0.81" stop-color="#00ffff"/><stop offset="0.84" stop-color="#00dcff"/><stop offset="0.865" stop-color="#00aaff"/><stop offset="0.885" stop-color="#006dff"/><stop offset="0.905" stop-color="#0020ff"/><stop offset="0.91" stop-color="#0111ff"/><stop offset="0.92" stop-color="#0803ff"/><stop offset="0.98" stop-color="#7800ff"/><stop offset="0.995" stop-color="#8a00ff"/><stop offset="1" stop-color="#8a00ff"/></linearGradient><linearGradient id="g108" x1="0" y1="0" x2="0" y2="1"><stop offset="0" stop-color="#ff8f00"/><stop offset="0.115" stop-color="#ff9800"/><stop offset="0.235" stop-color="#ffab00"/><stop offset="0.48" stop-color="#fffe00"/><stop offset="0.505" stop-color="#edff00"/><stop offset="0.515" stop-color="#c4ff00"/><stop offset="0.535" stop-color="#58ff00"/><stop offset="0.54" stop-color="#46ff00"/><stop offset="0.545" stop-color="#3eff00"/><stop offset="0.55" stop-color="#37ff00"/><stop offset="0.58" stop-color="#33ff00"/><stop offset="0.615" stop-color="#06ff00"/><stop offset="0.64" stop-color="#00ff00"/><stop offset="0.67" stop-color="#00ff22"/><stop offset="0.7" stop-color="#00ff25"/><stop offset="0.71" stop-color="#00ff2f"/><stop offset="0.73" stop-color="#00ff50"/><stop offset="0.765" stop-color="#00ff6c"/><stop offset="0.775" stop-color="#00ff7d"/><stop offset="0.79" stop-color="#00ffa9"/><stop offset="0.81" stop-color="#00ffce"/><stop offset="0.82" stop-color="#00ffea"/><stop offset="0.835" stop-color="#00fffe"/><stop offset="0.85" stop-color="#00f3ff"/><stop offset="0.875" stop-color="#00bfff"/><stop offset="0.885" stop-color="#009cff"/><stop offset="0.895" stop-color="#0063ff"/><stop offset="0.905" stop-color="#003dff"/><stop offset="0.92" stop-color="#0022ff"/><stop offset="0.925" stop-color="#0112ff"/><stop offset="0.935" stop-color="#0c00ff"/><stop offset="0.94" stop-color="#1d00ff"/><stop offset="0.96" stop-color="#4400ff"/><stop offset="0.98" stop-color="#7700ff"/><stop offset="0.99" stop-color="#8400ff"/><stop offset="1" stop-color="#8800ff"/></linearGradient></defs>
<g shape-rendering="crispEdges"><rect x="100.00" y="135" width="4.67" height="400" fill="url(#g0)"/><rect x="104.17" y="135" width="8.83" height="400" fill="url(#g1)"/><rect x="112.50" y="135" width="8.83" height="400" fill="url(#g2)"/><rect x="120.83" y="135" width="8.83" height="400" fill="url(#g3)"/><rect x="129.17" y="135" width="8.83" height="400" fill="url(#g4)"/><rect x="137.50" y="135" width="8.83" height="400" fill="url(#g5)"/><rect x="145.83" y="135" width="8.83" height="400" fill="url(#g6)"/><rect x="154.17" y="135" width="8.83" height="400" fill="url(#g7)"/><rect x="162.50" y="135" width="8.83" height="400" fill="url(#g8)"/><rect x="170.83" y="135" width="8.83" height="400" fill="url(#g9)"/><rect x="179.17" y="135" width="8.83" height="400" fill="url(#g10)"/><rect x="187.50" y="135" width="8.83" height="400" fill="url(#g11)"/><rect x="195.83" y="135" width="8.83" height="400" fill="url(#g12)"/><rect x="204.17" y="135" width="8.83" height="400" fill="url(#g13)"/><rect x="212.50" y="135" width="8.83" height="400" fill="url(#g14)"/><rect x="220.83" y="135" width="8.83" height="400" fill="url(#g15)"/><rect x="229.17" y="135" width="8.83" height="400" fill="url(#g16)"/><rect x="237.50" y="135" width="8.83" height="400" fill="url(#g17)"/><rect x="245.83" y="135" width="8.83" height="400" fill="url(#g18)"/><rect x="254.17" y="135" width="8.83" height="400" fill="url(#g19)"/><rect x="262.50" y="135" width="8.83" height="400" fill="url(#g20)"/><rect x="270.83" y="135" width="8.83" height="400" fill="url(#g21)"/><rect x="279.17" y="135" width="8.83" height="400" fill="url(#g22)"/><rect x="287.50" y="135" width="8.83" height="400" fill="url(#g23)"/><rect x="295.83" y="135" width="8.83" height="400" fill="url(#g24)"/><rect x="304.17" y="135" width="8.83" height="400" fill="url(#g25)"/><rect x="312.50" y="135" width="8.83" height="400" fill="url(#g26)"/><rect x="320.83" y="135" width="8.83" height="400" fill="url(#g27)"/><rect x="329.17" y="135" width="8.83" height="400" fill="url(#g28)"/><rect x="337.50" y="135" width="8.83" height="400" fill="url(#g29)"/><rect x="345.83" y="135" width="8.83" height="400" fill="url(#g30)"/><rect x="354.17" y="135" width="8.83" height="400" fill="url(#g31)"/><rect x="362.50" y="135" width="8.83" height="400" fill="url(#g32)"/><rect x="370.83" y="135" width="8.83" height="400" fill="url(#g33)"/><rect x="379.17" y="135" width="8.83" height="400" fill="url(#g34)"/><rect x="387.50" y="135" width="8.83" height="400" fill="url(#g35)"/><rect x="395.83" y="135" width="8.83" height="400" fill="url(#g36)"/><rect x="404.17" y="135" width="8.83" height="400" fill="url(#g37)"/><rect x="412.50" y="135" width="8.83" height="400" fill="url(#g38)"/><rect x="420.83" y="135" width="8.83" height="400" fill="url(#g39)"/><rect x="429.17" y="135" width="8.83" height="400" fill="url(#g40)"/><rect x="437.50" y="135" width="8.83" height="400" fill="url(#g41)"/><rect x="445.83" y="135" width="8.83" height="400" fill="url(#g42)"/><rect x="454.17" y="135" width="8.83" height="400" fill="url(#g43)"/><rect x="462.50" y="135" width="8.83" height="400" fill="url(#g44)"/><rect x="470.83" y="135" width="8.83" height="400" fill="url(#g45)"/><rect x="479.17" y="135" width="8.83" height="400" fill="url(#g46)"/><rect x="487.50" y="135" width="8.83" height="400" fill="url(#g47)"/><rect x="495.83" y="135" width="8.83" height="400" fill="url(#g48)"/><rect x="504.17" y="135" width="8.83" height="400" fill="url(#g49)"/><rect x="512.50" y="135" width="8.83" height="400" fill="url(#g50)"/><rect x="520.83" y="135" width="8.83" height="400" fill="url(#g51)"/><rect x="529.17" y="135" width="8.83" height="400" fill="url(#g52)"/><rect x="537.50" y="135" width="8.83" height="400" fill="url(#g53)"/><rect x="545.83" y="135" width="8.83" height="400" fill="url(#g54)"/><rect x="554.17" y="135" width="8.83" height="400" fill="url(#g55)"/><rect x="562.50" y="135" width="8.83" height="400" fill="url(#g56)"/><rect x="570.83" y="135" width="8.83" height="400" fill="url(#g57)"/><rect x="579.17" y="135" width="8.83" height="400" fill="url(#g58)"/><rect x="587.50" y="135" width="8.83" height="400" fill="url(#g59)"/><rect x="595.83" y="135" width="8.83" height="400" fill="url(#g60)"/><rect x="604.17" y="135" width="8.83" height="400" fill="url(#g61)"/><rect x="612.50" y="135" width="8.83" height="400" fill="url(#g62)"/><rect x="620.83" y="135" width="8.83" height="400" fill="url(#g63)"/><rect x="629.17" y="135" width="8.83" height="400" fill="url(#g64)"/><rect x="637.50" y="135" width="8.83" height="400" fill="url(#g65)"/><rect x="645.83" y="135" width="8.83" height="400" fill="url(#g66)"/><rect x="654.17" y="135" width="8.83" height="400" fill="url(#g67)"/><rect x="662.50" y="135" width="8.83" height="400" fill="url(#g68)"/><rect x="670.83" y="135" width="8.83" height="400" fill="url(#g69)"/><rect x="679.17" y="135" width="8.83" height="400" fill="url(#g70)"/><rect x="687.50" y="135" width="8.83" height="400" fill="url(#g71)"/><rect x="695.83" y="135" width="8.83" height="400" fill="url(#g72)"/><rect x="704.17" y="135" width="8.83" height="400" fill="url(#g73)"/><rect x="712.50" y="135" width="8.83" height="400" fill="url(#g74)"/><rect x="720.83" y="135" width="8.83" height="400" fill="url(#g75)"/><rect x="729.17" y="135" width="8.83" height="400" fill="url(#g76)"/><rect x="737.50" y="135" width="8.83" height="400" fill="url(#g77)"/><rect x="745.83" y="135" width="8.83" height="400" fill="url(#g78)"/><rect x="754.17" y="135" width="8.83" height="400" fill="url(#g79)"/><rect x="762.50" y="135" width="8.83" height="400" fill="url(#g80)"/><rect x="770.83" y="135" width="8.83" height="400" fill="url(#g81)"/><rect x="779.17" y="135" width="8.83" height="400" fill="url(#g82)"/><rect x="787.50" y="135" width="8.83" height="400" fill="url(#g83)"/><rect x="795.83" y="135" width="8.83" height="400" fill="url(#g84)"/><rect x="804.17" y="135" width="8.83" height="400" fill="url(#g85)"/><rect x="812.50" y="135" width="8.83" height="400" fill="url(#g86)"/><rect x="820.83" y="135" width="8.83" height="400" fill="url(#g87)"/><rect x="829.17" y="135" width="8.83" height="400" fill="url(#g88)"/><rect x="837.50" y="135" width="8.83" height="400" fill="url(#g89)"/><rect x="845.83" y="135" width="8.83" height="400" fill="url(#g90)"/><rect x="854.17" y="135" width="8.83" height="400" fill="url(#g91)"/><rect x="862.50" y="135" width="8.83" height="400" fill="url(#g92)"/><rect x="870.83" y="135" width="8.83" height="400" fill="url(#g93)"/><rect x="879.17" y="135" width="8.83" height="400" fill="url(#g94)"/><rect x="887.50" y="135" width="8.83" height="400" fill="url(#g95)"/><rect x="895.83" y="135" width="8.83" height="400" fill="url(#g96)"/><rect x="904.17" y="135" width="8.83" height="400" fill="url(#g97)"/><rect x="912.50" y="135" width="8.83" height="400" fill="url(#g98)"/><rect x="920.83" y="135" width="8.83" height="400" fill="url(#g99)"/><rect x="929.17" y="135" width="8.83" height="400" fill="url(#g100)"/><rect x="937.50" y="135" width="8.83" height="400" fill="url(#g101)"/><rect x="945.83" y="135" width="8.83" height="400" fill="url(#g102)"/><rect x="954.17" y="135" width="8.83" height="400" fill="url(#g103)"/><rect x="962.50" y="135" width="8.83" height="400" fill="url(#g104)"/><rect x="970.83" y="135" width="8.83" height="400" fill="url(#g105)"/><rect x="979.17" y="135" width="8.83" height="400" fill="url(#g106)"/><rect x="987.50" y="135" width="8.83" height="400" fill="url(#g107)"/><rect x="995.83" y="135" width="4.17" height="400" fill="url(#g108)"/></g>
<defs><clipPath id="pc"><rect x="100" y="134" width="901" height="402"/></clipPath><path id="ar" d="M-6.7 0L-1 -4.6V-1.8H6.6V1.8H-1V4.6Z"/></defs><g fill="#000" clip-path="url(#pc)"><use href="#ar" transform="translate(94.5 134.8)"/><use href="#ar" transform="translate(94.5 178.6)"/><use href="#ar" transform="translate(94.5 222.4)"/><use href="#ar" transform="translate(94.5 266.2)"/><use href="#ar" transform="translate(94.5 310.0)"/><use href="#ar" transform="translate(94.5 353.8)"/><use href="#ar" transform="translate(94.5 397.6)"/><use href="#ar" transform="translate(94.5 441.4)"/><use href="#ar" transform="translate(94.5 485.2)"/><use href="#ar" transform="translate(94.5 529.0)"/><use href="#ar" transform="translate(144.5 134.8)"/><use href="#ar" transform="translate(144.5 178.6) rotate(-10.0)"/><use href="#ar" transform="translate(144.5 222.4)"/><use href="#ar" transform="translate(144.5 266.2)"/><use href="#ar" transform="translate(144.5 310.0)"/><use href="#ar" transform="translate(144.5 353.8)"/><use href="#ar" transform="translate(144.5 397.6)"/><use href="#ar" transform="translate(144.5 441.4)"/><use href="#ar" transform="translate(144.5 485.2)"/><use href="#ar" transform="translate(144.5 529.0)"/><use href="#ar" transform="translate(194.5 134.8)"/><use href="#ar" transform="translate(194.5 178.6) rotate(-10.0)"/><use href="#ar" transform="translate(194.5 222.4)"/><use href="#ar" transform="translate(194.5 266.2)"/><use href="#ar" transform="translate(194.5 310.0)"/><use href="#ar" transform="translate(194.5 353.8)"/><use href="#ar" transform="translate(194.5 397.6)"/><use href="#ar" transform="translate(194.5 441.4)"/><use href="#ar" transform="translate(194.5 485.2)"/><use href="#ar" transform="translate(194.5 529.0)"/><use href="#ar" transform="translate(244.5 134.8)"/><use href="#ar" transform="translate(244.5 178.6) rotate(-8.0)"/><use href="#ar" transform="translate(244.5 222.4) rotate(-8.0)"/><use href="#ar" transform="translate(244.5 266.2)"/><use href="#ar" transform="translate(244.5 310.0)"/><use href="#ar" transform="translate(244.5 353.8)"/><use href="#ar" transform="translate(244.5 397.6)"/><use href="#ar" transform="translate(244.5 441.4)"/><use href="#ar" transform="translate(244.5 485.2)"/><use href="#ar" transform="translate(244.5 529.0)"/><use href="#ar" transform="translate(294.5 134.8)"/><use href="#ar" transform="translate(294.5 178.6) rotate(-8.0)"/><use href="#ar" transform="translate(294.5 222.4) rotate(-12.0)"/><use href="#ar" transform="translate(294.5 266.2)"/><use href="#ar" transform="translate(294.5 310.0)"/><use href="#ar" transform="translate(294.5 353.8)"/><use href="#ar" transform="translate(294.5 397.6)"/><use href="#ar" transform="translate(294.5 441.4)"/><use href="#ar" transform="translate(294.5 485.2)"/><use href="#ar" transform="translate(294.5 529.0)"/><use href="#ar" transform="translate(344.5 134.8)"/><use href="#ar" transform="translate(344.5 178.6)"/><use href="#ar" transform="translate(344.5 222.4)"/><use href="#ar" transform="translate(344.5 266.2)"/><use href="#ar" transform="translate(344.5 310.0)"/><use href="#ar" transform="translate(344.5 353.8)"/><use href="#ar" transform="translate(344.5 397.6)"/><use href="#ar" transform="translate(344.5 441.4)"/><use href="#ar" transform="translate(344.5 485.2)"/><use href="#ar" transform="translate(344.5 529.0)"/><use href="#ar" transform="translate(394.5 134.8)"/><use href="#ar" transform="translate(394.5 178.6)"/><use href="#ar" transform="translate(394.5 222.4)"/><use href="#ar" transform="translate(394.5 266.2)"/><use href="#ar" transform="translate(394.5 310.0)"/><use href="#ar" transform="translate(394.5 353.8) rotate(10.0)"/><use href="#ar" transform="translate(394.5 397.6) rotate(14.0)"/><use href="#ar" transform="translate(394.5 441.4)"/><use href="#ar" transform="translate(394.5 485.2)"/><use href="#ar" transform="translate(394.5 529.0)"/><use href="#ar" transform="translate(444.5 134.8)"/><use href="#ar" transform="translate(444.5 178.6)"/><use href="#ar" transform="translate(444.5 222.4)"/><use href="#ar" transform="translate(444.5 266.2)"/><use href="#ar" transform="translate(444.5 310.0) rotate(8.0)"/><use href="#ar" transform="translate(444.5 353.8) rotate(8.0)"/><use href="#ar" transform="translate(444.5 397.6)"/><use href="#ar" transform="translate(444.5 441.4)"/><use href="#ar" transform="translate(444.5 485.2)"/><use href="#ar" transform="translate(444.5 529.0)"/><use href="#ar" transform="translate(494.5 134.8)"/><use href="#ar" transform="translate(494.5 178.6)"/><use href="#ar" transform="translate(494.5 222.4)"/><use href="#ar" transform="translate(494.5 266.2)"/><use href="#ar" transform="translate(494.5 310.0)"/><use href="#ar" transform="translate(494.5 353.8) rotate(8.0)"/><use href="#ar" transform="translate(494.5 397.6)"/><use href="#ar" transform="translate(494.5 441.4)"/><use href="#ar" transform="translate(494.5 485.2)"/><use href="#ar" transform="translate(494.5 529.0)"/><use href="#ar" transform="translate(544.5 134.8)"/><use href="#ar" transform="translate(544.5 178.6)"/><use href="#ar" transform="translate(544.5 222.4)"/><use href="#ar" transform="translate(544.5 266.2)"/><use href="#ar" transform="translate(544.5 310.0)"/><use href="#ar" transform="translate(544.5 353.8)"/><use href="#ar" transform="translate(544.5 397.6)"/><use href="#ar" transform="translate(544.5 441.4)"/><use href="#ar" transform="translate(544.5 485.2)"/><use href="#ar" transform="translate(544.5 529.0)"/><use href="#ar" transform="translate(594.5 134.8)"/><use href="#ar" transform="translate(594.5 178.6)"/><use href="#ar" transform="translate(594.5 222.4)"/><use href="#ar" transform="translate(594.5 266.2)"/><use href="#ar" transform="translate(594.5 310.0)"/><use href="#ar" transform="translate(594.5 353.8)"/><use href="#ar" transform="translate(594.5 397.6)"/><use href="#ar" transform="translate(594.5 441.4)"/><use href="#ar" transform="translate(594.5 485.2)"/><use href="#ar" transform="translate(594.5 529.0)"/><use href="#ar" transform="translate(644.5 134.8)"/><use href="#ar" transform="translate(644.5 178.6)"/><use href="#ar" transform="translate(644.5 222.4)"/><use href="#ar" transform="translate(644.5 266.2)"/><use href="#ar" transform="translate(644.5 310.0)"/><use href="#ar" transform="translate(644.5 353.8)"/><use href="#ar" transform="translate(644.5 397.6)"/><use href="#ar" transform="translate(644.5 441.4)"/><use href="#ar" transform="translate(644.5 485.2)"/><use href="#ar" transform="translate(644.5 529.0)"/><use href="#ar" transform="translate(694.5 134.8)"/><use href="#ar" transform="translate(694.5 178.6)"/><use href="#ar" transform="translate(694.5 222.4)"/><use href="#ar" transform="translate(694.5 266.2)"/><use href="#ar" transform="translate(694.5 310.0)"/><use href="#ar" transform="translate(694.5 353.8)"/><use href="#ar" transform="translate(694.5 397.6)"/><use href="#ar" transform="translate(694.5 441.4)"/><use href="#ar" transform="translate(694.5 485.2)"/><use href="#ar" transform="translate(694.5 529.0)"/><use href="#ar" transform="translate(744.5 134.8)"/><use href="#ar" transform="translate(744.5 178.6)"/><use href="#ar" transform="translate(744.5 222.4)"/><use href="#ar" transform="translate(744.5 266.2)"/><use href="#ar" transform="translate(744.5 310.0)"/><use href="#ar" transform="translate(744.5 353.8) rotate(-6.0)"/><use href="#ar" transform="translate(744.5 397.6)"/><use href="#ar" transform="translate(744.5 441.4)"/><use href="#ar" transform="translate(744.5 485.2)"/><use href="#ar" transform="translate(744.5 529.0)"/><use href="#ar" transform="translate(794.5 134.8)"/><use href="#ar" transform="translate(794.5 178.6) rotate(15.0)"/><use href="#ar" transform="translate(794.5 222.4) rotate(8.0)"/><use href="#ar" transform="translate(794.5 266.2)"/><use href="#ar" transform="translate(794.5 310.0)"/><use href="#ar" transform="translate(794.5 353.8) rotate(-6.0)"/><use href="#ar" transform="translate(794.5 397.6)"/><use href="#ar" transform="translate(794.5 441.4)"/><use href="#ar" transform="translate(794.5 485.2)"/><use href="#ar" transform="translate(794.5 529.0)"/><use href="#ar" transform="translate(844.5 134.8)"/><use href="#ar" transform="translate(844.5 178.6) rotate(15.0)"/><use href="#ar" transform="translate(844.5 222.4) rotate(8.0)"/><use href="#ar" transform="translate(844.5 266.2)"/><use href="#ar" transform="translate(844.5 310.0)"/><use href="#ar" transform="translate(844.5 353.8)"/><use href="#ar" transform="translate(844.5 397.6)"/><use href="#ar" transform="translate(844.5 441.4)"/><use href="#ar" transform="translate(844.5 485.2)"/><use href="#ar" transform="translate(844.5 529.0)"/><use href="#ar" transform="translate(894.5 134.8)"/><use href="#ar" transform="translate(894.5 178.6) rotate(-5.0)"/><use href="#ar" transform="translate(894.5 222.4)"/><use href="#ar" transform="translate(894.5 266.2)"/><use href="#ar" transform="translate(894.5 310.0)"/><use href="#ar" transform="translate(894.5 353.8)"/><use href="#ar" transform="translate(894.5 397.6)"/><use href="#ar" transform="translate(894.5 441.4)"/><use href="#ar" transform="translate(894.5 485.2)"/><use href="#ar" transform="translate(894.5 529.0)"/><use href="#ar" transform="translate(944.5 134.8)"/><use href="#ar" transform="translate(944.5 178.6) rotate(-15.0)"/><use href="#ar" transform="translate(944.5 222.4) rotate(-12.0)"/><use href="#ar" transform="translate(944.5 266.2)"/><use href="#ar" transform="translate(944.5 310.0)"/><use href="#ar" transform="translate(944.5 353.8)"/><use href="#ar" transform="translate(944.5 397.6)"/><use href="#ar" transform="translate(944.5 441.4)"/><use href="#ar" transform="translate(944.5 485.2)"/><use href="#ar" transform="translate(944.5 529.0)"/><use href="#ar" transform="translate(994.5 134.8)"/><use href="#ar" transform="translate(994.5 178.6)"/><use href="#ar" transform="translate(994.5 222.4)"/><use href="#ar" transform="translate(994.5 266.2)"/><use href="#ar" transform="translate(994.5 310.0)"/><use href="#ar" transform="translate(994.5 353.8)"/><use href="#ar" transform="translate(994.5 397.6)"/><use href="#ar" transform="translate(994.5 441.4)"/><use href="#ar" transform="translate(994.5 485.2)"/><use href="#ar" transform="translate(994.5 529.0)"/></g>
<g stroke="#000" stroke-width="1" fill="none" shape-rendering="crispEdges"><path d="M100 134.5H1000.5"/><path d="M100 535H1000.5"/><path d="M100 134V535.5"/><path d="M1000 134V535.5"/><path d="M100 128V135M100 535V542M150 128V135M150 535V542M200 128V135M200 535V542M250 128V135M250 535V542M300 128V135M300 535V542M350 128V135M350 535V542M400 128V135M400 535V542M450 128V135M450 535V542M500 128V135M500 535V542M550 128V135M550 535V542M600 128V135M600 535V542M650 128V135M650 535V542M700 128V135M700 535V542M750 128V135M750 535V542M800 128V135M800 535V542M850 128V135M850 535V542M900 128V135M900 535V542M950 128V135M950 535V542M1000 128V135M1000 535V542"/><path d="M93.0 135.0H100M1000 135.0h6.0M96.5 141.3H100M1000 141.3h3.0M96.5 147.5H100M1000 147.5h3.0M96.5 153.8H100M1000 153.8h3.0M96.5 160.1H100M1000 160.1h3.0M93.0 166.3H100M1000 166.3h6.0M96.5 172.6H100M1000 172.6h3.0M96.5 178.9H100M1000 178.9h3.0M96.5 185.2H100M1000 185.2h3.0M96.5 191.4H100M1000 191.4h3.0M93.0 197.7H100M1000 197.7h6.0M96.5 204.0H100M1000 204.0h3.0M96.5 210.2H100M1000 210.2h3.0M96.5 216.5H100M1000 216.5h3.0M96.5 222.8H100M1000 222.8h3.0M93.0 229.1H100M1000 229.1h6.0M96.5 235.3H100M1000 235.3h3.0M96.5 241.6H100M1000 241.6h3.0M96.5 247.9H100M1000 247.9h3.0M96.5 254.1H100M1000 254.1h3.0M93.0 260.4H100M1000 260.4h6.0M96.5 266.7H100M1000 266.7h3.0M96.5 272.9H100M1000 272.9h3.0M96.5 279.2H100M1000 279.2h3.0M96.5 285.5H100M1000 285.5h3.0M93.0 291.8H100M1000 291.8h6.0M96.5 298.0H100M1000 298.0h3.0M96.5 304.3H100M1000 304.3h3.0M96.5 310.6H100M1000 310.6h3.0M96.5 316.8H100M1000 316.8h3.0M93.0 323.1H100M1000 323.1h6.0M96.5 329.4H100M1000 329.4h3.0M96.5 335.6H100M1000 335.6h3.0M96.5 341.9H100M1000 341.9h3.0M96.5 348.2H100M1000 348.2h3.0M93.0 354.4H100M1000 354.4h6.0M96.5 360.7H100M1000 360.7h3.0M96.5 367.0H100M1000 367.0h3.0M96.5 373.3H100M1000 373.3h3.0M96.5 379.5H100M1000 379.5h3.0M93.0 385.8H100M1000 385.8h6.0M96.5 392.1H100M1000 392.1h3.0M96.5 398.3H100M1000 398.3h3.0M96.5 404.6H100M1000 404.6h3.0M96.5 410.9H100M1000 410.9h3.0M93.0 417.1H100M1000 417.1h6.0M96.5 423.4H100M1000 423.4h3.0M96.5 429.7H100M1000 429.7h3.0M96.5 436.0H100M1000 436.0h3.0M96.5 442.2H100M1000 442.2h3.0M93.0 448.5H100M1000 448.5h6.0M96.5 454.8H100M1000 454.8h3.0M96.5 461.0H100M1000 461.0h3.0M96.5 467.3H100M1000 467.3h3.0M96.5 473.6H100M1000 473.6h3.0M93.0 479.8H100M1000 479.8h6.0M96.5 486.1H100M1000 486.1h3.0M96.5 492.4H100M1000 492.4h3.0M96.5 498.7H100M1000 498.7h3.0M96.5 504.9H100M1000 504.9h3.0M93.0 511.2H100M1000 511.2h6.0M96.5 517.5H100M1000 517.5h3.0M96.5 523.7H100M1000 523.7h3.0M96.5 530.0H100M1000 530.0h3.0M96.5 536.3H100M1000 536.3h3.0"/></g>
<text x="85.5" y="140.4" font-size="15" text-anchor="end">0</text><text x="85.5" y="171.8" font-size="15" text-anchor="end">5</text><text x="85.5" y="203.1" font-size="15" text-anchor="end">10</text><text x="85.5" y="234.5" font-size="15" text-anchor="end">15</text><text x="85.5" y="265.8" font-size="15" text-anchor="end">20</text><text x="85.5" y="297.1" font-size="15" text-anchor="end">25</text><text x="85.5" y="328.5" font-size="15" text-anchor="end">30</text><text x="85.5" y="359.8" font-size="15" text-anchor="end">35</text><text x="85.5" y="391.2" font-size="15" text-anchor="end">40</text><text x="85.5" y="422.5" font-size="15" text-anchor="end">45</text><text x="85.5" y="453.9" font-size="15" text-anchor="end">50</text><text x="85.5" y="485.2" font-size="15" text-anchor="end">55</text><text x="85.5" y="516.6" font-size="15" text-anchor="end">60</text><text x="100" y="561" font-size="15" text-anchor="middle">3</text><text x="150" y="561" font-size="15" text-anchor="middle">6</text><text x="200" y="561" font-size="15" text-anchor="middle">9</text><text x="250" y="561" font-size="15" text-anchor="middle">12</text><text x="300" y="561" font-size="15" text-anchor="middle">15</text><text x="350" y="561" font-size="15" text-anchor="middle">18</text><text x="400" y="561" font-size="15" text-anchor="middle">21</text><text x="450" y="561" font-size="15" text-anchor="middle">0</text><text x="500" y="561" font-size="15" text-anchor="middle">3</text><text x="550" y="561" font-size="15" text-anchor="middle">6</text><text x="600" y="561" font-size="15" text-anchor="middle">9</text><text x="650" y="561" font-size="15" text-anchor="middle">12</text><text x="700" y="561" font-size="15" text-anchor="middle">15</text><text x="750" y="561" font-size="15" text-anchor="middle">18</text><text x="800" y="561" font-size="15" text-anchor="middle">21</text><text x="850" y="561" font-size="15" text-anchor="middle">0</text><text x="900" y="561" font-size="15" text-anchor="middle">3</text><text x="950" y="561" font-size="15" text-anchor="middle">6</text><text x="1000" y="561" font-size="15" text-anchor="middle">9</text>
<text x="275.0" y="578" font-size="8.5" font-style="italic" text-anchor="middle" textLength="33" lengthAdjust="spacing" xml:space="preserve">NOV  6</text><text x="650.5" y="578" font-size="8.5" font-style="italic" text-anchor="middle" textLength="33" lengthAdjust="spacing" xml:space="preserve">NOV  7</text><text x="925.0" y="578" font-size="8.5" font-style="italic" text-anchor="middle" textLength="33" lengthAdjust="spacing" xml:space="preserve">NOV  8</text>
<text x="240.5" y="35.0" font-size="26.0" textLength="622.0" lengthAdjust="spacingAndGlyphs" class="b">University of Southern Mississippi Ocean Cube</text>
<text x="240.5" y="735.5" font-size="26.0" textLength="621.0" lengthAdjust="spacingAndGlyphs" class="b">University of Southern Mississippi Ocean Cube</text>
<text x="101.0" y="74.5" font-size="19.5" textLength="57.0" lengthAdjust="spacingAndGlyphs" class="b">42031</text>
<text x="101.0" y="104.8" font-size="21.0" textLength="203.0" lengthAdjust="spacingAndGlyphs">30.0900N 88.2120W</text>
<text x="360.2" y="105.3" font-size="25.0" textLength="378.0" lengthAdjust="spacingAndGlyphs" class="b">2–D Currents Speed–Magnitude</text>
<text x="821.8" y="74.5" font-size="20.0" textLength="177.7" lengthAdjust="spacingAndGlyphs" class="b">Model Start Time</text>
<text x="802.0" y="104.8" font-size="21.0" textLength="197.5" lengthAdjust="spacingAndGlyphs" class="b">11/06/2019 Hour 03</text>
<text x="461.0" y="604.0" font-size="20.3" textLength="178.0" lengthAdjust="spacingAndGlyphs" class="b">Forecast Time(Z)</text>
<text transform="translate(53.2 381) rotate(-90)" font-size="22" class="b" textLength="95" lengthAdjust="spacingAndGlyphs">Depth (ft)</text>
<text x="1030.8" y="124.8" font-size="13.3" textLength="34.6" lengthAdjust="spacingAndGlyphs">Knots</text>
<defs><linearGradient id="cb" x1="0" y1="0" x2="0" y2="1"><stop offset="0.0000" stop-color="#ff0000"/><stop offset="0.1086" stop-color="#ff3200"/><stop offset="0.2601" stop-color="#ff6900"/><stop offset="0.3939" stop-color="#ffff00"/><stop offset="0.4116" stop-color="#c8ff00"/><stop offset="0.5126" stop-color="#00ff00"/><stop offset="0.5631" stop-color="#00ff6e"/><stop offset="0.6136" stop-color="#00ffff"/><stop offset="0.7146" stop-color="#0014ff"/><stop offset="0.7399" stop-color="#0a00ff"/><stop offset="0.8662" stop-color="#9600ff"/><stop offset="1.0000" stop-color="#ff00ff"/></linearGradient></defs>
<rect x="1030" y="135" width="20.5" height="400" fill="url(#cb)" stroke="#000" stroke-width="3"/>
<path d="M1028 536.3H1031" stroke="#000" stroke-width="2.4"/><path d="M1030 179.5H1057" stroke="#000" stroke-width="1"/><text x="1064.2" y="183.3" font-size="11.5" class="s" textLength="27" lengthAdjust="spacingAndGlyphs">0.492</text>
<path d="M1030 239.5H1057" stroke="#000" stroke-width="1"/><text x="1064.2" y="243.3" font-size="11.5" class="s" textLength="27" lengthAdjust="spacingAndGlyphs">0.438</text>
<path d="M1030 299.8H1057" stroke="#000" stroke-width="1"/><text x="1064.2" y="303.6" font-size="11.5" class="s" textLength="27" lengthAdjust="spacingAndGlyphs">0.383</text>
<path d="M1030 360.2H1057" stroke="#000" stroke-width="1"/><text x="1064.2" y="364.0" font-size="11.5" class="s" textLength="27" lengthAdjust="spacingAndGlyphs">0.328</text>
<path d="M1030 420.4H1057" stroke="#000" stroke-width="1"/><text x="1064.2" y="424.2" font-size="11.5" class="s" textLength="27" lengthAdjust="spacingAndGlyphs">0.273</text>
<path d="M1030 480.6H1057" stroke="#000" stroke-width="1"/><text x="1064.2" y="484.4" font-size="11.5" class="s" textLength="27" lengthAdjust="spacingAndGlyphs">0.219</text>
<rect x="362.5" y="135" width="8" height="2.6" fill="#fff"/><rect x="722" y="531.5" width="7" height="3" fill="#000"/>
</svg>
</body></html>
